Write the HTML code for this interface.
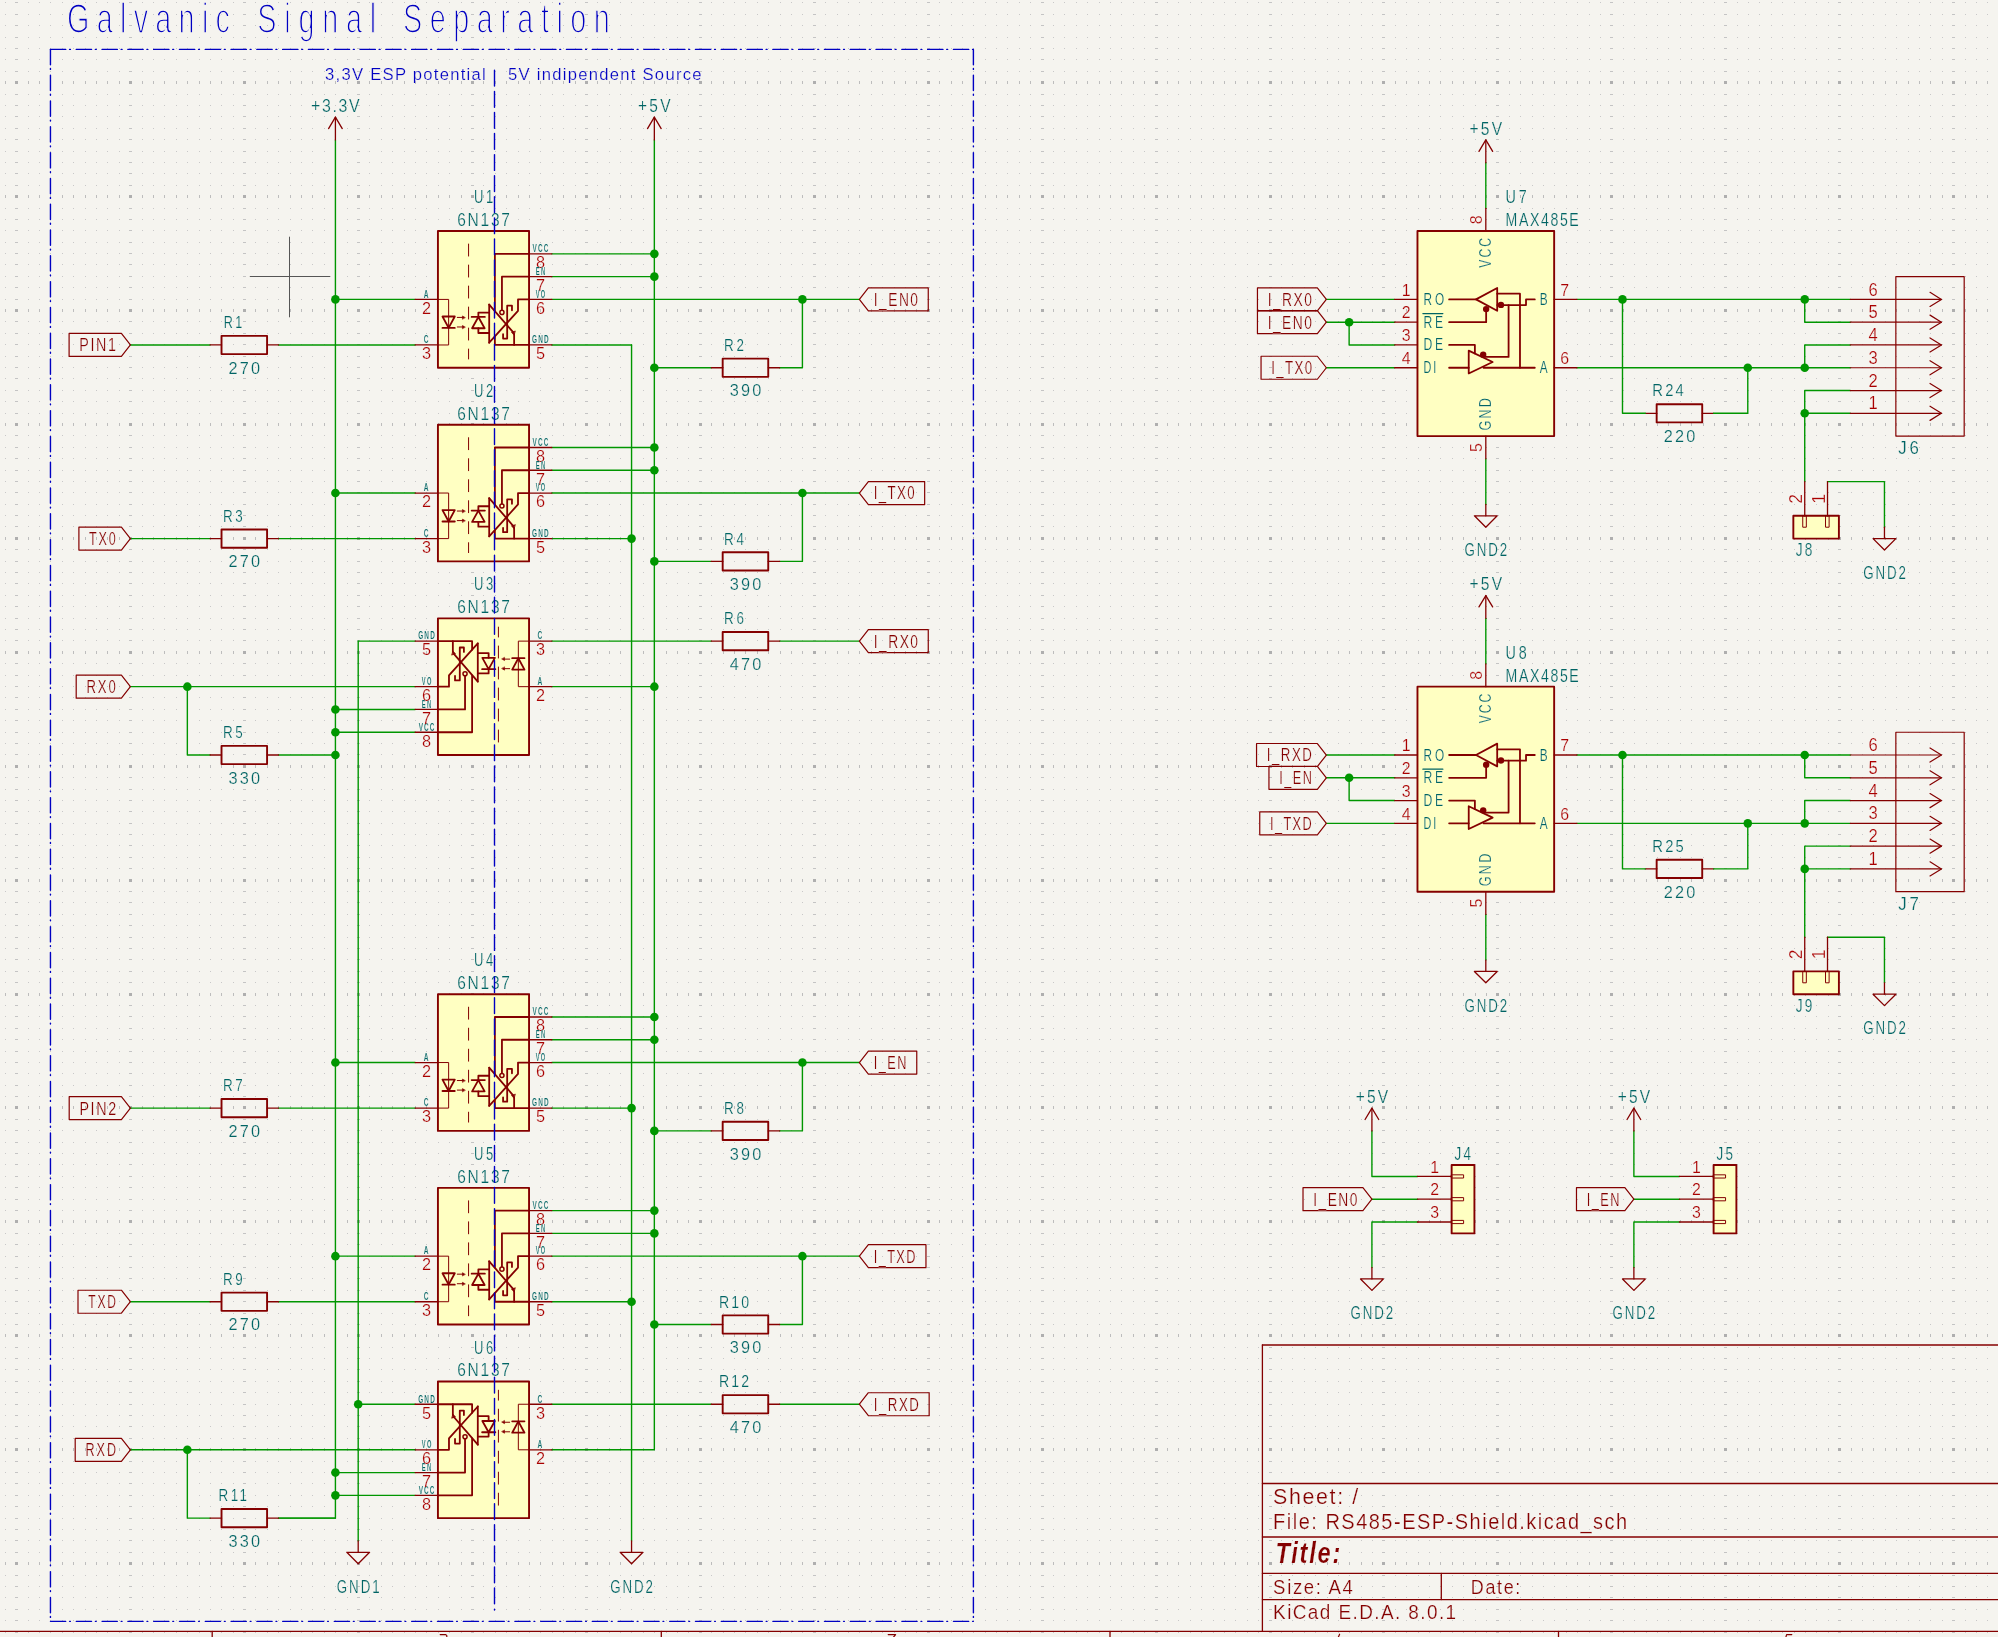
<!DOCTYPE html>
<html><head><meta charset="utf-8"><title>Schematic</title>
<style>
html,body{margin:0;padding:0;background:#F5F4EF;width:1998px;height:1637px;overflow:hidden}
#g{position:absolute;left:0;top:0}
svg{position:absolute;left:0;top:0}
text{font-family:"Liberation Sans",sans-serif}
</style></head><body>
<svg id="gfb" width="1998" height="1637" style="position:absolute;left:0;top:0"><defs><pattern id="gp" patternUnits="userSpaceOnUse" x="16.7" y="82.7" width="113.940" height="113.920"><rect x="-1.50" y="-1.50" width="3" height="3" fill="#afafaf"/><rect x="-1.50" y="10.89" width="3" height="1" fill="#c4c4c4"/><rect x="-1.50" y="22.28" width="3" height="1" fill="#c4c4c4"/><rect x="-1.50" y="33.68" width="3" height="1" fill="#c4c4c4"/><rect x="-1.50" y="45.07" width="3" height="1" fill="#c4c4c4"/><rect x="-1.50" y="56.46" width="3" height="1" fill="#c4c4c4"/><rect x="-1.50" y="67.85" width="3" height="1" fill="#c4c4c4"/><rect x="-1.50" y="79.24" width="3" height="1" fill="#c4c4c4"/><rect x="-1.50" y="90.64" width="3" height="1" fill="#c4c4c4"/><rect x="-1.50" y="102.03" width="3" height="1" fill="#c4c4c4"/><rect x="10.89" y="-1.50" width="1" height="3" fill="#bdbdbd"/><rect x="10.89" y="10.89" width="1" height="1" fill="#c8c8c8"/><rect x="10.89" y="22.28" width="1" height="1" fill="#c8c8c8"/><rect x="10.89" y="33.68" width="1" height="1" fill="#c8c8c8"/><rect x="10.89" y="45.07" width="1" height="1" fill="#c8c8c8"/><rect x="10.89" y="56.46" width="1" height="1" fill="#c8c8c8"/><rect x="10.89" y="67.85" width="1" height="1" fill="#c8c8c8"/><rect x="10.89" y="79.24" width="1" height="1" fill="#c8c8c8"/><rect x="10.89" y="90.64" width="1" height="1" fill="#c8c8c8"/><rect x="10.89" y="102.03" width="1" height="1" fill="#c8c8c8"/><rect x="22.29" y="-1.50" width="1" height="3" fill="#bdbdbd"/><rect x="22.29" y="10.89" width="1" height="1" fill="#c8c8c8"/><rect x="22.29" y="22.28" width="1" height="1" fill="#c8c8c8"/><rect x="22.29" y="33.68" width="1" height="1" fill="#c8c8c8"/><rect x="22.29" y="45.07" width="1" height="1" fill="#c8c8c8"/><rect x="22.29" y="56.46" width="1" height="1" fill="#c8c8c8"/><rect x="22.29" y="67.85" width="1" height="1" fill="#c8c8c8"/><rect x="22.29" y="79.24" width="1" height="1" fill="#c8c8c8"/><rect x="22.29" y="90.64" width="1" height="1" fill="#c8c8c8"/><rect x="22.29" y="102.03" width="1" height="1" fill="#c8c8c8"/><rect x="33.68" y="-1.50" width="1" height="3" fill="#bdbdbd"/><rect x="33.68" y="10.89" width="1" height="1" fill="#c8c8c8"/><rect x="33.68" y="22.28" width="1" height="1" fill="#c8c8c8"/><rect x="33.68" y="33.68" width="1" height="1" fill="#c8c8c8"/><rect x="33.68" y="45.07" width="1" height="1" fill="#c8c8c8"/><rect x="33.68" y="56.46" width="1" height="1" fill="#c8c8c8"/><rect x="33.68" y="67.85" width="1" height="1" fill="#c8c8c8"/><rect x="33.68" y="79.24" width="1" height="1" fill="#c8c8c8"/><rect x="33.68" y="90.64" width="1" height="1" fill="#c8c8c8"/><rect x="33.68" y="102.03" width="1" height="1" fill="#c8c8c8"/><rect x="45.08" y="-1.50" width="1" height="3" fill="#bdbdbd"/><rect x="45.08" y="10.89" width="1" height="1" fill="#c8c8c8"/><rect x="45.08" y="22.28" width="1" height="1" fill="#c8c8c8"/><rect x="45.08" y="33.68" width="1" height="1" fill="#c8c8c8"/><rect x="45.08" y="45.07" width="1" height="1" fill="#c8c8c8"/><rect x="45.08" y="56.46" width="1" height="1" fill="#c8c8c8"/><rect x="45.08" y="67.85" width="1" height="1" fill="#c8c8c8"/><rect x="45.08" y="79.24" width="1" height="1" fill="#c8c8c8"/><rect x="45.08" y="90.64" width="1" height="1" fill="#c8c8c8"/><rect x="45.08" y="102.03" width="1" height="1" fill="#c8c8c8"/><rect x="56.47" y="-1.50" width="1" height="3" fill="#bdbdbd"/><rect x="56.47" y="10.89" width="1" height="1" fill="#c8c8c8"/><rect x="56.47" y="22.28" width="1" height="1" fill="#c8c8c8"/><rect x="56.47" y="33.68" width="1" height="1" fill="#c8c8c8"/><rect x="56.47" y="45.07" width="1" height="1" fill="#c8c8c8"/><rect x="56.47" y="56.46" width="1" height="1" fill="#c8c8c8"/><rect x="56.47" y="67.85" width="1" height="1" fill="#c8c8c8"/><rect x="56.47" y="79.24" width="1" height="1" fill="#c8c8c8"/><rect x="56.47" y="90.64" width="1" height="1" fill="#c8c8c8"/><rect x="56.47" y="102.03" width="1" height="1" fill="#c8c8c8"/><rect x="67.86" y="-1.50" width="1" height="3" fill="#bdbdbd"/><rect x="67.86" y="10.89" width="1" height="1" fill="#c8c8c8"/><rect x="67.86" y="22.28" width="1" height="1" fill="#c8c8c8"/><rect x="67.86" y="33.68" width="1" height="1" fill="#c8c8c8"/><rect x="67.86" y="45.07" width="1" height="1" fill="#c8c8c8"/><rect x="67.86" y="56.46" width="1" height="1" fill="#c8c8c8"/><rect x="67.86" y="67.85" width="1" height="1" fill="#c8c8c8"/><rect x="67.86" y="79.24" width="1" height="1" fill="#c8c8c8"/><rect x="67.86" y="90.64" width="1" height="1" fill="#c8c8c8"/><rect x="67.86" y="102.03" width="1" height="1" fill="#c8c8c8"/><rect x="79.26" y="-1.50" width="1" height="3" fill="#bdbdbd"/><rect x="79.26" y="10.89" width="1" height="1" fill="#c8c8c8"/><rect x="79.26" y="22.28" width="1" height="1" fill="#c8c8c8"/><rect x="79.26" y="33.68" width="1" height="1" fill="#c8c8c8"/><rect x="79.26" y="45.07" width="1" height="1" fill="#c8c8c8"/><rect x="79.26" y="56.46" width="1" height="1" fill="#c8c8c8"/><rect x="79.26" y="67.85" width="1" height="1" fill="#c8c8c8"/><rect x="79.26" y="79.24" width="1" height="1" fill="#c8c8c8"/><rect x="79.26" y="90.64" width="1" height="1" fill="#c8c8c8"/><rect x="79.26" y="102.03" width="1" height="1" fill="#c8c8c8"/><rect x="90.65" y="-1.50" width="1" height="3" fill="#bdbdbd"/><rect x="90.65" y="10.89" width="1" height="1" fill="#c8c8c8"/><rect x="90.65" y="22.28" width="1" height="1" fill="#c8c8c8"/><rect x="90.65" y="33.68" width="1" height="1" fill="#c8c8c8"/><rect x="90.65" y="45.07" width="1" height="1" fill="#c8c8c8"/><rect x="90.65" y="56.46" width="1" height="1" fill="#c8c8c8"/><rect x="90.65" y="67.85" width="1" height="1" fill="#c8c8c8"/><rect x="90.65" y="79.24" width="1" height="1" fill="#c8c8c8"/><rect x="90.65" y="90.64" width="1" height="1" fill="#c8c8c8"/><rect x="90.65" y="102.03" width="1" height="1" fill="#c8c8c8"/><rect x="102.05" y="-1.50" width="1" height="3" fill="#bdbdbd"/><rect x="102.05" y="10.89" width="1" height="1" fill="#c8c8c8"/><rect x="102.05" y="22.28" width="1" height="1" fill="#c8c8c8"/><rect x="102.05" y="33.68" width="1" height="1" fill="#c8c8c8"/><rect x="102.05" y="45.07" width="1" height="1" fill="#c8c8c8"/><rect x="102.05" y="56.46" width="1" height="1" fill="#c8c8c8"/><rect x="102.05" y="67.85" width="1" height="1" fill="#c8c8c8"/><rect x="102.05" y="79.24" width="1" height="1" fill="#c8c8c8"/><rect x="102.05" y="90.64" width="1" height="1" fill="#c8c8c8"/><rect x="102.05" y="102.03" width="1" height="1" fill="#c8c8c8"/></pattern></defs><rect width="1998" height="1637" fill="url(#gp)"/></svg>
<canvas id="g" width="1998" height="1637"></canvas>
<svg width="1998" height="1637" viewBox="0 0 1998 1637" stroke-linecap="round" stroke-linejoin="round">
<path d="M335.42 139.95 L335.42 1518.14 L278.47 1518.14" stroke="#009600" stroke-width="1.4" fill="none"/>
<path d="M654.34 139.95 L654.34 1449.8 L551.83 1449.8" stroke="#009600" stroke-width="1.4" fill="none"/>
<path d="M358.2 641.11 L358.2 1540.92" stroke="#009600" stroke-width="1.4" fill="none"/>
<path d="M415.15 641.11 L358.2 641.11" stroke="#009600" stroke-width="1.4" fill="none"/>
<path d="M631.56 344.97 L631.56 1540.92" stroke="#009600" stroke-width="1.4" fill="none"/>
<path d="M551.83 344.97 L631.56 344.97" stroke="#009600" stroke-width="1.4" fill="none"/>
<path d="M335.42 299.41 L415.15 299.41" stroke="#009600" stroke-width="1.4" fill="none"/>
<path d="M551.83 253.85 L654.34 253.85" stroke="#009600" stroke-width="1.4" fill="none"/>
<path d="M551.83 276.63 L654.34 276.63" stroke="#009600" stroke-width="1.4" fill="none"/>
<path d="M551.83 299.41 L859.36 299.41" stroke="#009600" stroke-width="1.4" fill="none"/>
<path d="M654.34 367.75 L711.29 367.75" stroke="#009600" stroke-width="1.4" fill="none"/>
<path d="M779.63 367.75 L802.41 367.75 L802.41 299.41" stroke="#009600" stroke-width="1.4" fill="none"/>
<path d="M130.4 344.97 L210.13 344.97" stroke="#009600" stroke-width="1.4" fill="none"/>
<path d="M278.47 344.97 L415.15 344.97" stroke="#009600" stroke-width="1.4" fill="none"/>
<circle cx="335.42" cy="299.41" r="4.3" fill="#009600"/>
<circle cx="654.34" cy="253.85" r="4.3" fill="#009600"/>
<circle cx="654.34" cy="276.63" r="4.3" fill="#009600"/>
<circle cx="802.41" cy="299.41" r="4.3" fill="#009600"/>
<circle cx="654.34" cy="367.75" r="4.3" fill="#009600"/>
<path d="M335.42 493.04 L415.15 493.04" stroke="#009600" stroke-width="1.4" fill="none"/>
<path d="M551.83 447.48 L654.34 447.48" stroke="#009600" stroke-width="1.4" fill="none"/>
<path d="M551.83 470.26 L654.34 470.26" stroke="#009600" stroke-width="1.4" fill="none"/>
<path d="M551.83 493.04 L859.36 493.04" stroke="#009600" stroke-width="1.4" fill="none"/>
<path d="M654.34 561.38 L711.29 561.38" stroke="#009600" stroke-width="1.4" fill="none"/>
<path d="M779.63 561.38 L802.41 561.38 L802.41 493.04" stroke="#009600" stroke-width="1.4" fill="none"/>
<path d="M130.4 538.6 L210.13 538.6" stroke="#009600" stroke-width="1.4" fill="none"/>
<path d="M278.47 538.6 L415.15 538.6" stroke="#009600" stroke-width="1.4" fill="none"/>
<circle cx="335.42" cy="493.04" r="4.3" fill="#009600"/>
<circle cx="654.34" cy="447.48" r="4.3" fill="#009600"/>
<circle cx="654.34" cy="470.26" r="4.3" fill="#009600"/>
<circle cx="802.41" cy="493.04" r="4.3" fill="#009600"/>
<circle cx="654.34" cy="561.38" r="4.3" fill="#009600"/>
<path d="M335.42 1062.54 L415.15 1062.54" stroke="#009600" stroke-width="1.4" fill="none"/>
<path d="M551.83 1016.98 L654.34 1016.98" stroke="#009600" stroke-width="1.4" fill="none"/>
<path d="M551.83 1039.76 L654.34 1039.76" stroke="#009600" stroke-width="1.4" fill="none"/>
<path d="M551.83 1062.54 L859.36 1062.54" stroke="#009600" stroke-width="1.4" fill="none"/>
<path d="M654.34 1130.88 L711.29 1130.88" stroke="#009600" stroke-width="1.4" fill="none"/>
<path d="M779.63 1130.88 L802.41 1130.88 L802.41 1062.54" stroke="#009600" stroke-width="1.4" fill="none"/>
<path d="M130.4 1108.1 L210.13 1108.1" stroke="#009600" stroke-width="1.4" fill="none"/>
<path d="M278.47 1108.1 L415.15 1108.1" stroke="#009600" stroke-width="1.4" fill="none"/>
<circle cx="335.42" cy="1062.54" r="4.3" fill="#009600"/>
<circle cx="654.34" cy="1016.98" r="4.3" fill="#009600"/>
<circle cx="654.34" cy="1039.76" r="4.3" fill="#009600"/>
<circle cx="802.41" cy="1062.54" r="4.3" fill="#009600"/>
<circle cx="654.34" cy="1130.88" r="4.3" fill="#009600"/>
<path d="M335.42 1256.17 L415.15 1256.17" stroke="#009600" stroke-width="1.4" fill="none"/>
<path d="M551.83 1210.61 L654.34 1210.61" stroke="#009600" stroke-width="1.4" fill="none"/>
<path d="M551.83 1233.39 L654.34 1233.39" stroke="#009600" stroke-width="1.4" fill="none"/>
<path d="M551.83 1256.17 L859.36 1256.17" stroke="#009600" stroke-width="1.4" fill="none"/>
<path d="M654.34 1324.51 L711.29 1324.51" stroke="#009600" stroke-width="1.4" fill="none"/>
<path d="M779.63 1324.51 L802.41 1324.51 L802.41 1256.17" stroke="#009600" stroke-width="1.4" fill="none"/>
<path d="M130.4 1301.73 L210.13 1301.73" stroke="#009600" stroke-width="1.4" fill="none"/>
<path d="M278.47 1301.73 L415.15 1301.73" stroke="#009600" stroke-width="1.4" fill="none"/>
<circle cx="335.42" cy="1256.17" r="4.3" fill="#009600"/>
<circle cx="654.34" cy="1210.61" r="4.3" fill="#009600"/>
<circle cx="654.34" cy="1233.39" r="4.3" fill="#009600"/>
<circle cx="802.41" cy="1256.17" r="4.3" fill="#009600"/>
<circle cx="654.34" cy="1324.51" r="4.3" fill="#009600"/>
<path d="M551.83 538.6 L631.56 538.6" stroke="#009600" stroke-width="1.4" fill="none"/>
<circle cx="631.56" cy="538.6" r="4.3" fill="#009600"/>
<path d="M551.83 1108.1 L631.56 1108.1" stroke="#009600" stroke-width="1.4" fill="none"/>
<circle cx="631.56" cy="1108.1" r="4.3" fill="#009600"/>
<path d="M551.83 1301.73 L631.56 1301.73" stroke="#009600" stroke-width="1.4" fill="none"/>
<circle cx="631.56" cy="1301.73" r="4.3" fill="#009600"/>
<path d="M130.4 686.67 L415.15 686.67" stroke="#009600" stroke-width="1.4" fill="none"/>
<path d="M187.35 686.67 L187.35 755.01 L210.13 755.01" stroke="#009600" stroke-width="1.4" fill="none"/>
<path d="M278.47 755.01 L335.42 755.01" stroke="#009600" stroke-width="1.4" fill="none"/>
<path d="M415.15 709.45 L335.42 709.45" stroke="#009600" stroke-width="1.4" fill="none"/>
<path d="M415.15 732.23 L335.42 732.23" stroke="#009600" stroke-width="1.4" fill="none"/>
<path d="M551.83 641.11 L711.29 641.11" stroke="#009600" stroke-width="1.4" fill="none"/>
<path d="M779.63 641.11 L859.36 641.11" stroke="#009600" stroke-width="1.4" fill="none"/>
<circle cx="187.35" cy="686.67" r="4.3" fill="#009600"/>
<circle cx="335.42" cy="709.45" r="4.3" fill="#009600"/>
<circle cx="335.42" cy="732.23" r="4.3" fill="#009600"/>
<path d="M130.4 1449.8 L415.15 1449.8" stroke="#009600" stroke-width="1.4" fill="none"/>
<path d="M187.35 1449.8 L187.35 1518.14 L210.13 1518.14" stroke="#009600" stroke-width="1.4" fill="none"/>
<path d="M278.47 1518.14 L335.42 1518.14" stroke="#009600" stroke-width="1.4" fill="none"/>
<path d="M415.15 1472.58 L335.42 1472.58" stroke="#009600" stroke-width="1.4" fill="none"/>
<path d="M415.15 1495.36 L335.42 1495.36" stroke="#009600" stroke-width="1.4" fill="none"/>
<path d="M551.83 1404.24 L711.29 1404.24" stroke="#009600" stroke-width="1.4" fill="none"/>
<path d="M779.63 1404.24 L859.36 1404.24" stroke="#009600" stroke-width="1.4" fill="none"/>
<circle cx="187.35" cy="1449.8" r="4.3" fill="#009600"/>
<circle cx="335.42" cy="1472.58" r="4.3" fill="#009600"/>
<circle cx="335.42" cy="1495.36" r="4.3" fill="#009600"/>
<circle cx="335.42" cy="755.01" r="4.3" fill="#009600"/>
<path d="M551.83 686.67 L654.34 686.67" stroke="#009600" stroke-width="1.4" fill="none"/>
<circle cx="654.34" cy="686.67" r="4.3" fill="#009600"/>
<path d="M415.15 1404.24 L358.2 1404.24" stroke="#009600" stroke-width="1.4" fill="none"/>
<circle cx="358.2" cy="1404.24" r="4.3" fill="#009600"/>
<rect x="437.93" y="231.07" width="91.12" height="136.68" stroke="#840000" stroke-width="1.9" fill="#FFFFC2"/>
<path d="M529.05 253.85 L494.88 253.85 L494.88 310.8" stroke="#840000" stroke-width="1.8" fill="none" stroke-linejoin="round"/>
<path d="M529.05 276.63 L501.94 276.63 L501.94 310.23" stroke="#840000" stroke-width="1.8" fill="none" stroke-linejoin="round"/>
<path d="M489.19 304.54 L489.19 342.69" stroke="#840000" stroke-width="1.8" fill="none" stroke-linejoin="round"/>
<path d="M489.19 304.54 L513.33 332.44 L514.13 334.15 L514.13 344.97" stroke="#840000" stroke-width="1.8" fill="none" stroke-linejoin="round"/>
<path d="M489.19 342.69 L518 310.8 L518 299.41 L529.05 299.41" stroke="#840000" stroke-width="1.8" fill="none" stroke-linejoin="round"/>
<path d="M529.05 344.97 L494.88 344.97 L494.88 336.43" stroke="#840000" stroke-width="1.8" fill="none" stroke-linejoin="round"/>
<path d="M511.97 310.23 L511.97 305.67 L507.18 305.67 L507.18 338.59 L503.08 338.59 L503.08 334.15" stroke="#840000" stroke-width="1.8" fill="none" stroke-linejoin="round"/>
<path d="M471.64 316.95 L484.86 316.95" stroke="#840000" stroke-width="1.8" fill="none" stroke-linejoin="round"/>
<path d="M478.36 316.95 L478.36 312.62 L489.19 312.62" stroke="#840000" stroke-width="1.8" fill="none" stroke-linejoin="round"/>
<path d="M478.36 328.23 L478.36 333.01 L489.19 333.01" stroke="#840000" stroke-width="1.8" fill="none" stroke-linejoin="round"/>
<path d="M442.49 327.88 L454.79 327.88" stroke="#840000" stroke-width="1.8" fill="none" stroke-linejoin="round"/>
<path d="M472.1 328.23 L484.63 328.23 L478.36 316.95 Z" stroke="#840000" stroke-width="1.8" fill="none"/>
<path d="M442.49 316.5 L454.79 316.5 L448.64 327.88 Z" stroke="#840000" stroke-width="1.8" fill="none"/>
<path d="M437.93 299.41 L448.64 299.41 L448.64 344.97 L437.93 344.97" stroke="#840000" stroke-width="1" fill="none"/>
<path d="M457.29 317.41 L463.56 317.41" stroke="#840000" stroke-width="1" fill="none"/>
<path d="M457.29 326.97 L463.56 326.97" stroke="#840000" stroke-width="1" fill="none"/>
<path d="M465.04 317.41 L462.42 315.93 L462.42 318.89 Z" stroke="#840000" stroke-width="0.6" fill="#840000"/>
<path d="M465.04 326.97 L462.42 325.49 L462.42 328.45 Z" stroke="#840000" stroke-width="0.6" fill="#840000"/>
<path d="M513.79 334.95 L511.4 332.21 L515.15 331.07 Z" stroke="#840000" stroke-width="0.6" fill="#840000"/>
<circle cx="501.94" cy="312.39" r="2.05" stroke="#840000" stroke-width="1.5" fill="#FFFFC2"/>
<path d="M468.57 244.05 L468.57 358.98" stroke="#840000" stroke-width="1" stroke-dasharray="12 9" fill="none"/>
<path d="M437.93 299.41 L415.15 299.41" stroke="#840000" stroke-width="1.3" fill="none"/>
<text font-size="17.18" fill="#A90000" transform="translate(426.54 313.72) scale(0.95 1)" text-anchor="middle" stroke="#F5F4EF" stroke-width="0.22">2</text>
<text font-size="10.2" fill="#006464" transform="translate(423.72 297.72) scale(0.65 1)" textLength="8.69" lengthAdjust="spacing" font-weight="bold" stroke="#F5F4EF" stroke-width="0.22">A</text>
<path d="M437.93 344.97 L415.15 344.97" stroke="#840000" stroke-width="1.3" fill="none"/>
<text font-size="17.18" fill="#A90000" transform="translate(426.54 359.28) scale(0.95 1)" text-anchor="middle" stroke="#F5F4EF" stroke-width="0.22">3</text>
<text font-size="10.2" fill="#006464" transform="translate(423.72 343.28) scale(0.65 1)" textLength="8.69" lengthAdjust="spacing" font-weight="bold" stroke="#F5F4EF" stroke-width="0.22">C</text>
<path d="M529.05 253.85 L551.83 253.85" stroke="#840000" stroke-width="1.3" fill="none"/>
<text font-size="17.18" fill="#A90000" transform="translate(540.44 268.16) scale(0.95 1)" text-anchor="middle" stroke="#F5F4EF" stroke-width="0.22">8</text>
<text font-size="10.2" fill="#006464" transform="translate(532.62 252.16) scale(0.63 1)" textLength="24.98" lengthAdjust="spacing" font-weight="bold" stroke="#F5F4EF" stroke-width="0.22">VCC</text>
<path d="M529.05 276.63 L551.83 276.63" stroke="#840000" stroke-width="1.3" fill="none"/>
<text font-size="17.18" fill="#A90000" transform="translate(540.44 290.94) scale(0.95 1)" text-anchor="middle" stroke="#F5F4EF" stroke-width="0.22">7</text>
<text font-size="10.2" fill="#006464" transform="translate(535.63 274.94) scale(0.58 1)" textLength="16.51" lengthAdjust="spacing" font-weight="bold" stroke="#F5F4EF" stroke-width="0.22">EN</text>
<path d="M529.05 299.41 L551.83 299.41" stroke="#840000" stroke-width="1.3" fill="none"/>
<text font-size="17.18" fill="#A90000" transform="translate(540.44 313.72) scale(0.95 1)" text-anchor="middle" stroke="#F5F4EF" stroke-width="0.22">6</text>
<text font-size="10.2" fill="#006464" transform="translate(535.63 297.72) scale(0.56 1)" textLength="17.17" lengthAdjust="spacing" font-weight="bold" stroke="#F5F4EF" stroke-width="0.22">VO</text>
<path d="M529.05 344.97 L551.83 344.97" stroke="#840000" stroke-width="1.3" fill="none"/>
<text font-size="17.18" fill="#A90000" transform="translate(540.44 359.28) scale(0.95 1)" text-anchor="middle" stroke="#F5F4EF" stroke-width="0.22">5</text>
<text font-size="10.2" fill="#006464" transform="translate(532.12 343.28) scale(0.63 1)" textLength="26.28" lengthAdjust="spacing" font-weight="bold" stroke="#F5F4EF" stroke-width="0.22">GND</text>
<text font-size="18.05" fill="#006464" transform="translate(473.91 203.11) scale(0.72 1)" textLength="26.74" lengthAdjust="spacing" stroke="#F5F4EF" stroke-width="0.22">U1</text>
<text font-size="18.05" fill="#006464" transform="translate(457.15 225.89) scale(0.86 1)" textLength="61.37" lengthAdjust="spacing" stroke="#F5F4EF" stroke-width="0.22">6N137</text>
<rect x="437.93" y="424.7" width="91.12" height="136.68" stroke="#840000" stroke-width="1.9" fill="#FFFFC2"/>
<path d="M529.05 447.48 L494.88 447.48 L494.88 504.43" stroke="#840000" stroke-width="1.8" fill="none" stroke-linejoin="round"/>
<path d="M529.05 470.26 L501.94 470.26 L501.94 503.86" stroke="#840000" stroke-width="1.8" fill="none" stroke-linejoin="round"/>
<path d="M489.19 498.17 L489.19 536.32" stroke="#840000" stroke-width="1.8" fill="none" stroke-linejoin="round"/>
<path d="M489.19 498.17 L513.33 526.07 L514.13 527.78 L514.13 538.6" stroke="#840000" stroke-width="1.8" fill="none" stroke-linejoin="round"/>
<path d="M489.19 536.32 L518 504.43 L518 493.04 L529.05 493.04" stroke="#840000" stroke-width="1.8" fill="none" stroke-linejoin="round"/>
<path d="M529.05 538.6 L494.88 538.6 L494.88 530.06" stroke="#840000" stroke-width="1.8" fill="none" stroke-linejoin="round"/>
<path d="M511.97 503.86 L511.97 499.3 L507.18 499.3 L507.18 532.22 L503.08 532.22 L503.08 527.78" stroke="#840000" stroke-width="1.8" fill="none" stroke-linejoin="round"/>
<path d="M471.64 510.58 L484.86 510.58" stroke="#840000" stroke-width="1.8" fill="none" stroke-linejoin="round"/>
<path d="M478.36 510.58 L478.36 506.25 L489.19 506.25" stroke="#840000" stroke-width="1.8" fill="none" stroke-linejoin="round"/>
<path d="M478.36 521.86 L478.36 526.64 L489.19 526.64" stroke="#840000" stroke-width="1.8" fill="none" stroke-linejoin="round"/>
<path d="M442.49 521.52 L454.79 521.52" stroke="#840000" stroke-width="1.8" fill="none" stroke-linejoin="round"/>
<path d="M472.1 521.86 L484.63 521.86 L478.36 510.58 Z" stroke="#840000" stroke-width="1.8" fill="none"/>
<path d="M442.49 510.12 L454.79 510.12 L448.64 521.52 Z" stroke="#840000" stroke-width="1.8" fill="none"/>
<path d="M437.93 493.04 L448.64 493.04 L448.64 538.6 L437.93 538.6" stroke="#840000" stroke-width="1" fill="none"/>
<path d="M457.29 511.04 L463.56 511.04" stroke="#840000" stroke-width="1" fill="none"/>
<path d="M457.29 520.6 L463.56 520.6" stroke="#840000" stroke-width="1" fill="none"/>
<path d="M465.04 511.04 L462.42 509.56 L462.42 512.52 Z" stroke="#840000" stroke-width="0.6" fill="#840000"/>
<path d="M465.04 520.6 L462.42 519.12 L462.42 522.08 Z" stroke="#840000" stroke-width="0.6" fill="#840000"/>
<path d="M513.79 528.58 L511.4 525.84 L515.15 524.7 Z" stroke="#840000" stroke-width="0.6" fill="#840000"/>
<circle cx="501.94" cy="506.02" r="2.05" stroke="#840000" stroke-width="1.5" fill="#FFFFC2"/>
<path d="M468.57 437.68 L468.57 552.61" stroke="#840000" stroke-width="1" stroke-dasharray="12 9" fill="none"/>
<path d="M437.93 493.04 L415.15 493.04" stroke="#840000" stroke-width="1.3" fill="none"/>
<text font-size="17.18" fill="#A90000" transform="translate(426.54 507.35) scale(0.95 1)" text-anchor="middle" stroke="#F5F4EF" stroke-width="0.22">2</text>
<text font-size="10.2" fill="#006464" transform="translate(423.72 491.35) scale(0.65 1)" textLength="8.69" lengthAdjust="spacing" font-weight="bold" stroke="#F5F4EF" stroke-width="0.22">A</text>
<path d="M437.93 538.6 L415.15 538.6" stroke="#840000" stroke-width="1.3" fill="none"/>
<text font-size="17.18" fill="#A90000" transform="translate(426.54 552.91) scale(0.95 1)" text-anchor="middle" stroke="#F5F4EF" stroke-width="0.22">3</text>
<text font-size="10.2" fill="#006464" transform="translate(423.72 536.91) scale(0.65 1)" textLength="8.69" lengthAdjust="spacing" font-weight="bold" stroke="#F5F4EF" stroke-width="0.22">C</text>
<path d="M529.05 447.48 L551.83 447.48" stroke="#840000" stroke-width="1.3" fill="none"/>
<text font-size="17.18" fill="#A90000" transform="translate(540.44 461.79) scale(0.95 1)" text-anchor="middle" stroke="#F5F4EF" stroke-width="0.22">8</text>
<text font-size="10.2" fill="#006464" transform="translate(532.62 445.79) scale(0.63 1)" textLength="24.98" lengthAdjust="spacing" font-weight="bold" stroke="#F5F4EF" stroke-width="0.22">VCC</text>
<path d="M529.05 470.26 L551.83 470.26" stroke="#840000" stroke-width="1.3" fill="none"/>
<text font-size="17.18" fill="#A90000" transform="translate(540.44 484.57) scale(0.95 1)" text-anchor="middle" stroke="#F5F4EF" stroke-width="0.22">7</text>
<text font-size="10.2" fill="#006464" transform="translate(535.63 468.57) scale(0.58 1)" textLength="16.51" lengthAdjust="spacing" font-weight="bold" stroke="#F5F4EF" stroke-width="0.22">EN</text>
<path d="M529.05 493.04 L551.83 493.04" stroke="#840000" stroke-width="1.3" fill="none"/>
<text font-size="17.18" fill="#A90000" transform="translate(540.44 507.35) scale(0.95 1)" text-anchor="middle" stroke="#F5F4EF" stroke-width="0.22">6</text>
<text font-size="10.2" fill="#006464" transform="translate(535.63 491.35) scale(0.56 1)" textLength="17.17" lengthAdjust="spacing" font-weight="bold" stroke="#F5F4EF" stroke-width="0.22">VO</text>
<path d="M529.05 538.6 L551.83 538.6" stroke="#840000" stroke-width="1.3" fill="none"/>
<text font-size="17.18" fill="#A90000" transform="translate(540.44 552.91) scale(0.95 1)" text-anchor="middle" stroke="#F5F4EF" stroke-width="0.22">5</text>
<text font-size="10.2" fill="#006464" transform="translate(532.12 536.91) scale(0.63 1)" textLength="26.28" lengthAdjust="spacing" font-weight="bold" stroke="#F5F4EF" stroke-width="0.22">GND</text>
<text font-size="18.05" fill="#006464" transform="translate(473.91 396.74) scale(0.72 1)" textLength="26.74" lengthAdjust="spacing" stroke="#F5F4EF" stroke-width="0.22">U2</text>
<text font-size="18.05" fill="#006464" transform="translate(457.15 419.52) scale(0.86 1)" textLength="61.37" lengthAdjust="spacing" stroke="#F5F4EF" stroke-width="0.22">6N137</text>
<rect x="437.93" y="618.33" width="91.12" height="136.68" stroke="#840000" stroke-width="1.9" fill="#FFFFC2"/>
<path d="M437.93 732.23 L472.1 732.23 L472.1 675.28" stroke="#840000" stroke-width="1.8" fill="none" stroke-linejoin="round"/>
<path d="M437.93 709.45 L465.04 709.45 L465.04 675.85" stroke="#840000" stroke-width="1.8" fill="none" stroke-linejoin="round"/>
<path d="M477.8 681.54 L477.8 643.39" stroke="#840000" stroke-width="1.8" fill="none" stroke-linejoin="round"/>
<path d="M477.8 681.54 L453.65 653.64 L452.85 651.93 L452.85 641.11" stroke="#840000" stroke-width="1.8" fill="none" stroke-linejoin="round"/>
<path d="M477.8 643.39 L448.98 675.28 L448.98 686.67 L437.93 686.67" stroke="#840000" stroke-width="1.8" fill="none" stroke-linejoin="round"/>
<path d="M437.93 641.11 L472.1 641.11 L472.1 649.65" stroke="#840000" stroke-width="1.8" fill="none" stroke-linejoin="round"/>
<path d="M455.02 675.85 L455.02 680.41 L459.8 680.41 L459.8 647.49 L463.9 647.49 L463.9 651.93" stroke="#840000" stroke-width="1.8" fill="none" stroke-linejoin="round"/>
<path d="M495.34 669.13 L482.12 669.13" stroke="#840000" stroke-width="1.8" fill="none" stroke-linejoin="round"/>
<path d="M488.62 669.13 L488.62 673.46 L477.8 673.46" stroke="#840000" stroke-width="1.8" fill="none" stroke-linejoin="round"/>
<path d="M488.62 657.85 L488.62 653.07 L477.8 653.07" stroke="#840000" stroke-width="1.8" fill="none" stroke-linejoin="round"/>
<path d="M524.49 658.2 L512.19 658.2" stroke="#840000" stroke-width="1.8" fill="none" stroke-linejoin="round"/>
<path d="M494.88 657.85 L482.35 657.85 L488.62 669.13 Z" stroke="#840000" stroke-width="1.8" fill="none"/>
<path d="M524.49 669.59 L512.19 669.59 L518.34 658.2 Z" stroke="#840000" stroke-width="1.8" fill="none"/>
<path d="M529.05 686.67 L518.34 686.67 L518.34 641.11 L529.05 641.11" stroke="#840000" stroke-width="1" fill="none"/>
<path d="M509.69 668.67 L503.42 668.67" stroke="#840000" stroke-width="1" fill="none"/>
<path d="M509.69 659.11 L503.42 659.11" stroke="#840000" stroke-width="1" fill="none"/>
<path d="M501.94 668.67 L504.56 670.15 L504.56 667.19 Z" stroke="#840000" stroke-width="0.6" fill="#840000"/>
<path d="M501.94 659.11 L504.56 660.59 L504.56 657.63 Z" stroke="#840000" stroke-width="0.6" fill="#840000"/>
<path d="M453.19 651.13 L455.58 653.87 L451.83 655.01 Z" stroke="#840000" stroke-width="0.6" fill="#840000"/>
<circle cx="465.04" cy="673.69" r="2.05" stroke="#840000" stroke-width="1.5" fill="#FFFFC2"/>
<path d="M498.41 742.03 L498.41 627.1" stroke="#840000" stroke-width="1" stroke-dasharray="12 9" fill="none"/>
<path d="M529.05 686.67 L551.83 686.67" stroke="#840000" stroke-width="1.3" fill="none"/>
<text font-size="17.18" fill="#A90000" transform="translate(540.44 700.98) scale(0.95 1)" text-anchor="middle" stroke="#F5F4EF" stroke-width="0.22">2</text>
<text font-size="10.2" fill="#006464" transform="translate(537.62 684.98) scale(0.65 1)" textLength="8.69" lengthAdjust="spacing" font-weight="bold" stroke="#F5F4EF" stroke-width="0.22">A</text>
<path d="M529.05 641.11 L551.83 641.11" stroke="#840000" stroke-width="1.3" fill="none"/>
<text font-size="17.18" fill="#A90000" transform="translate(540.44 655.42) scale(0.95 1)" text-anchor="middle" stroke="#F5F4EF" stroke-width="0.22">3</text>
<text font-size="10.2" fill="#006464" transform="translate(537.62 639.42) scale(0.65 1)" textLength="8.69" lengthAdjust="spacing" font-weight="bold" stroke="#F5F4EF" stroke-width="0.22">C</text>
<path d="M437.93 732.23 L415.15 732.23" stroke="#840000" stroke-width="1.3" fill="none"/>
<text font-size="17.18" fill="#A90000" transform="translate(426.54 746.54) scale(0.95 1)" text-anchor="middle" stroke="#F5F4EF" stroke-width="0.22">8</text>
<text font-size="10.2" fill="#006464" transform="translate(418.72 730.54) scale(0.63 1)" textLength="24.98" lengthAdjust="spacing" font-weight="bold" stroke="#F5F4EF" stroke-width="0.22">VCC</text>
<path d="M437.93 709.45 L415.15 709.45" stroke="#840000" stroke-width="1.3" fill="none"/>
<text font-size="17.18" fill="#A90000" transform="translate(426.54 723.76) scale(0.95 1)" text-anchor="middle" stroke="#F5F4EF" stroke-width="0.22">7</text>
<text font-size="10.2" fill="#006464" transform="translate(421.73 707.76) scale(0.58 1)" textLength="16.51" lengthAdjust="spacing" font-weight="bold" stroke="#F5F4EF" stroke-width="0.22">EN</text>
<path d="M437.93 686.67 L415.15 686.67" stroke="#840000" stroke-width="1.3" fill="none"/>
<text font-size="17.18" fill="#A90000" transform="translate(426.54 700.98) scale(0.95 1)" text-anchor="middle" stroke="#F5F4EF" stroke-width="0.22">6</text>
<text font-size="10.2" fill="#006464" transform="translate(421.73 684.98) scale(0.56 1)" textLength="17.17" lengthAdjust="spacing" font-weight="bold" stroke="#F5F4EF" stroke-width="0.22">VO</text>
<path d="M437.93 641.11 L415.15 641.11" stroke="#840000" stroke-width="1.3" fill="none"/>
<text font-size="17.18" fill="#A90000" transform="translate(426.54 655.42) scale(0.95 1)" text-anchor="middle" stroke="#F5F4EF" stroke-width="0.22">5</text>
<text font-size="10.2" fill="#006464" transform="translate(418.22 639.42) scale(0.63 1)" textLength="26.28" lengthAdjust="spacing" font-weight="bold" stroke="#F5F4EF" stroke-width="0.22">GND</text>
<text font-size="18.05" fill="#006464" transform="translate(473.91 590.37) scale(0.72 1)" textLength="26.74" lengthAdjust="spacing" stroke="#F5F4EF" stroke-width="0.22">U3</text>
<text font-size="18.05" fill="#006464" transform="translate(457.15 613.15) scale(0.86 1)" textLength="61.37" lengthAdjust="spacing" stroke="#F5F4EF" stroke-width="0.22">6N137</text>
<rect x="437.93" y="994.2" width="91.12" height="136.68" stroke="#840000" stroke-width="1.9" fill="#FFFFC2"/>
<path d="M529.05 1016.98 L494.88 1016.98 L494.88 1073.93" stroke="#840000" stroke-width="1.8" fill="none" stroke-linejoin="round"/>
<path d="M529.05 1039.76 L501.94 1039.76 L501.94 1073.36" stroke="#840000" stroke-width="1.8" fill="none" stroke-linejoin="round"/>
<path d="M489.19 1067.67 L489.19 1105.82" stroke="#840000" stroke-width="1.8" fill="none" stroke-linejoin="round"/>
<path d="M489.19 1067.67 L513.33 1095.57 L514.13 1097.28 L514.13 1108.1" stroke="#840000" stroke-width="1.8" fill="none" stroke-linejoin="round"/>
<path d="M489.19 1105.82 L518 1073.93 L518 1062.54 L529.05 1062.54" stroke="#840000" stroke-width="1.8" fill="none" stroke-linejoin="round"/>
<path d="M529.05 1108.1 L494.88 1108.1 L494.88 1099.56" stroke="#840000" stroke-width="1.8" fill="none" stroke-linejoin="round"/>
<path d="M511.97 1073.36 L511.97 1068.8 L507.18 1068.8 L507.18 1101.72 L503.08 1101.72 L503.08 1097.28" stroke="#840000" stroke-width="1.8" fill="none" stroke-linejoin="round"/>
<path d="M471.64 1080.08 L484.86 1080.08" stroke="#840000" stroke-width="1.8" fill="none" stroke-linejoin="round"/>
<path d="M478.36 1080.08 L478.36 1075.75 L489.19 1075.75" stroke="#840000" stroke-width="1.8" fill="none" stroke-linejoin="round"/>
<path d="M478.36 1091.36 L478.36 1096.14 L489.19 1096.14" stroke="#840000" stroke-width="1.8" fill="none" stroke-linejoin="round"/>
<path d="M442.49 1091.02 L454.79 1091.02" stroke="#840000" stroke-width="1.8" fill="none" stroke-linejoin="round"/>
<path d="M472.1 1091.36 L484.63 1091.36 L478.36 1080.08 Z" stroke="#840000" stroke-width="1.8" fill="none"/>
<path d="M442.49 1079.62 L454.79 1079.62 L448.64 1091.02 Z" stroke="#840000" stroke-width="1.8" fill="none"/>
<path d="M437.93 1062.54 L448.64 1062.54 L448.64 1108.1 L437.93 1108.1" stroke="#840000" stroke-width="1" fill="none"/>
<path d="M457.29 1080.54 L463.56 1080.54" stroke="#840000" stroke-width="1" fill="none"/>
<path d="M457.29 1090.1 L463.56 1090.1" stroke="#840000" stroke-width="1" fill="none"/>
<path d="M465.04 1080.54 L462.42 1079.06 L462.42 1082.02 Z" stroke="#840000" stroke-width="0.6" fill="#840000"/>
<path d="M465.04 1090.1 L462.42 1088.62 L462.42 1091.58 Z" stroke="#840000" stroke-width="0.6" fill="#840000"/>
<path d="M513.79 1098.08 L511.4 1095.34 L515.15 1094.2 Z" stroke="#840000" stroke-width="0.6" fill="#840000"/>
<circle cx="501.94" cy="1075.52" r="2.05" stroke="#840000" stroke-width="1.5" fill="#FFFFC2"/>
<path d="M468.57 1007.18 L468.57 1122.11" stroke="#840000" stroke-width="1" stroke-dasharray="12 9" fill="none"/>
<path d="M437.93 1062.54 L415.15 1062.54" stroke="#840000" stroke-width="1.3" fill="none"/>
<text font-size="17.18" fill="#A90000" transform="translate(426.54 1076.85) scale(0.95 1)" text-anchor="middle" stroke="#F5F4EF" stroke-width="0.22">2</text>
<text font-size="10.2" fill="#006464" transform="translate(423.72 1060.85) scale(0.65 1)" textLength="8.69" lengthAdjust="spacing" font-weight="bold" stroke="#F5F4EF" stroke-width="0.22">A</text>
<path d="M437.93 1108.1 L415.15 1108.1" stroke="#840000" stroke-width="1.3" fill="none"/>
<text font-size="17.18" fill="#A90000" transform="translate(426.54 1122.41) scale(0.95 1)" text-anchor="middle" stroke="#F5F4EF" stroke-width="0.22">3</text>
<text font-size="10.2" fill="#006464" transform="translate(423.72 1106.41) scale(0.65 1)" textLength="8.69" lengthAdjust="spacing" font-weight="bold" stroke="#F5F4EF" stroke-width="0.22">C</text>
<path d="M529.05 1016.98 L551.83 1016.98" stroke="#840000" stroke-width="1.3" fill="none"/>
<text font-size="17.18" fill="#A90000" transform="translate(540.44 1031.29) scale(0.95 1)" text-anchor="middle" stroke="#F5F4EF" stroke-width="0.22">8</text>
<text font-size="10.2" fill="#006464" transform="translate(532.62 1015.29) scale(0.63 1)" textLength="24.98" lengthAdjust="spacing" font-weight="bold" stroke="#F5F4EF" stroke-width="0.22">VCC</text>
<path d="M529.05 1039.76 L551.83 1039.76" stroke="#840000" stroke-width="1.3" fill="none"/>
<text font-size="17.18" fill="#A90000" transform="translate(540.44 1054.07) scale(0.95 1)" text-anchor="middle" stroke="#F5F4EF" stroke-width="0.22">7</text>
<text font-size="10.2" fill="#006464" transform="translate(535.63 1038.07) scale(0.58 1)" textLength="16.51" lengthAdjust="spacing" font-weight="bold" stroke="#F5F4EF" stroke-width="0.22">EN</text>
<path d="M529.05 1062.54 L551.83 1062.54" stroke="#840000" stroke-width="1.3" fill="none"/>
<text font-size="17.18" fill="#A90000" transform="translate(540.44 1076.85) scale(0.95 1)" text-anchor="middle" stroke="#F5F4EF" stroke-width="0.22">6</text>
<text font-size="10.2" fill="#006464" transform="translate(535.63 1060.85) scale(0.56 1)" textLength="17.17" lengthAdjust="spacing" font-weight="bold" stroke="#F5F4EF" stroke-width="0.22">VO</text>
<path d="M529.05 1108.1 L551.83 1108.1" stroke="#840000" stroke-width="1.3" fill="none"/>
<text font-size="17.18" fill="#A90000" transform="translate(540.44 1122.41) scale(0.95 1)" text-anchor="middle" stroke="#F5F4EF" stroke-width="0.22">5</text>
<text font-size="10.2" fill="#006464" transform="translate(532.12 1106.41) scale(0.63 1)" textLength="26.28" lengthAdjust="spacing" font-weight="bold" stroke="#F5F4EF" stroke-width="0.22">GND</text>
<text font-size="18.05" fill="#006464" transform="translate(473.91 966.24) scale(0.72 1)" textLength="26.74" lengthAdjust="spacing" stroke="#F5F4EF" stroke-width="0.22">U4</text>
<text font-size="18.05" fill="#006464" transform="translate(457.15 989.02) scale(0.86 1)" textLength="61.37" lengthAdjust="spacing" stroke="#F5F4EF" stroke-width="0.22">6N137</text>
<rect x="437.93" y="1187.83" width="91.12" height="136.68" stroke="#840000" stroke-width="1.9" fill="#FFFFC2"/>
<path d="M529.05 1210.61 L494.88 1210.61 L494.88 1267.56" stroke="#840000" stroke-width="1.8" fill="none" stroke-linejoin="round"/>
<path d="M529.05 1233.39 L501.94 1233.39 L501.94 1266.99" stroke="#840000" stroke-width="1.8" fill="none" stroke-linejoin="round"/>
<path d="M489.19 1261.3 L489.19 1299.45" stroke="#840000" stroke-width="1.8" fill="none" stroke-linejoin="round"/>
<path d="M489.19 1261.3 L513.33 1289.2 L514.13 1290.91 L514.13 1301.73" stroke="#840000" stroke-width="1.8" fill="none" stroke-linejoin="round"/>
<path d="M489.19 1299.45 L518 1267.56 L518 1256.17 L529.05 1256.17" stroke="#840000" stroke-width="1.8" fill="none" stroke-linejoin="round"/>
<path d="M529.05 1301.73 L494.88 1301.73 L494.88 1293.19" stroke="#840000" stroke-width="1.8" fill="none" stroke-linejoin="round"/>
<path d="M511.97 1266.99 L511.97 1262.43 L507.18 1262.43 L507.18 1295.35 L503.08 1295.35 L503.08 1290.91" stroke="#840000" stroke-width="1.8" fill="none" stroke-linejoin="round"/>
<path d="M471.64 1273.71 L484.86 1273.71" stroke="#840000" stroke-width="1.8" fill="none" stroke-linejoin="round"/>
<path d="M478.36 1273.71 L478.36 1269.38 L489.19 1269.38" stroke="#840000" stroke-width="1.8" fill="none" stroke-linejoin="round"/>
<path d="M478.36 1284.99 L478.36 1289.77 L489.19 1289.77" stroke="#840000" stroke-width="1.8" fill="none" stroke-linejoin="round"/>
<path d="M442.49 1284.64 L454.79 1284.64" stroke="#840000" stroke-width="1.8" fill="none" stroke-linejoin="round"/>
<path d="M472.1 1284.99 L484.63 1284.99 L478.36 1273.71 Z" stroke="#840000" stroke-width="1.8" fill="none"/>
<path d="M442.49 1273.26 L454.79 1273.26 L448.64 1284.64 Z" stroke="#840000" stroke-width="1.8" fill="none"/>
<path d="M437.93 1256.17 L448.64 1256.17 L448.64 1301.73 L437.93 1301.73" stroke="#840000" stroke-width="1" fill="none"/>
<path d="M457.29 1274.17 L463.56 1274.17" stroke="#840000" stroke-width="1" fill="none"/>
<path d="M457.29 1283.73 L463.56 1283.73" stroke="#840000" stroke-width="1" fill="none"/>
<path d="M465.04 1274.17 L462.42 1272.69 L462.42 1275.65 Z" stroke="#840000" stroke-width="0.6" fill="#840000"/>
<path d="M465.04 1283.73 L462.42 1282.25 L462.42 1285.21 Z" stroke="#840000" stroke-width="0.6" fill="#840000"/>
<path d="M513.79 1291.71 L511.4 1288.97 L515.15 1287.83 Z" stroke="#840000" stroke-width="0.6" fill="#840000"/>
<circle cx="501.94" cy="1269.15" r="2.05" stroke="#840000" stroke-width="1.5" fill="#FFFFC2"/>
<path d="M468.57 1200.81 L468.57 1315.74" stroke="#840000" stroke-width="1" stroke-dasharray="12 9" fill="none"/>
<path d="M437.93 1256.17 L415.15 1256.17" stroke="#840000" stroke-width="1.3" fill="none"/>
<text font-size="17.18" fill="#A90000" transform="translate(426.54 1270.48) scale(0.95 1)" text-anchor="middle" stroke="#F5F4EF" stroke-width="0.22">2</text>
<text font-size="10.2" fill="#006464" transform="translate(423.72 1254.48) scale(0.65 1)" textLength="8.69" lengthAdjust="spacing" font-weight="bold" stroke="#F5F4EF" stroke-width="0.22">A</text>
<path d="M437.93 1301.73 L415.15 1301.73" stroke="#840000" stroke-width="1.3" fill="none"/>
<text font-size="17.18" fill="#A90000" transform="translate(426.54 1316.04) scale(0.95 1)" text-anchor="middle" stroke="#F5F4EF" stroke-width="0.22">3</text>
<text font-size="10.2" fill="#006464" transform="translate(423.72 1300.04) scale(0.65 1)" textLength="8.69" lengthAdjust="spacing" font-weight="bold" stroke="#F5F4EF" stroke-width="0.22">C</text>
<path d="M529.05 1210.61 L551.83 1210.61" stroke="#840000" stroke-width="1.3" fill="none"/>
<text font-size="17.18" fill="#A90000" transform="translate(540.44 1224.92) scale(0.95 1)" text-anchor="middle" stroke="#F5F4EF" stroke-width="0.22">8</text>
<text font-size="10.2" fill="#006464" transform="translate(532.62 1208.92) scale(0.63 1)" textLength="24.98" lengthAdjust="spacing" font-weight="bold" stroke="#F5F4EF" stroke-width="0.22">VCC</text>
<path d="M529.05 1233.39 L551.83 1233.39" stroke="#840000" stroke-width="1.3" fill="none"/>
<text font-size="17.18" fill="#A90000" transform="translate(540.44 1247.7) scale(0.95 1)" text-anchor="middle" stroke="#F5F4EF" stroke-width="0.22">7</text>
<text font-size="10.2" fill="#006464" transform="translate(535.63 1231.7) scale(0.58 1)" textLength="16.51" lengthAdjust="spacing" font-weight="bold" stroke="#F5F4EF" stroke-width="0.22">EN</text>
<path d="M529.05 1256.17 L551.83 1256.17" stroke="#840000" stroke-width="1.3" fill="none"/>
<text font-size="17.18" fill="#A90000" transform="translate(540.44 1270.48) scale(0.95 1)" text-anchor="middle" stroke="#F5F4EF" stroke-width="0.22">6</text>
<text font-size="10.2" fill="#006464" transform="translate(535.63 1254.48) scale(0.56 1)" textLength="17.17" lengthAdjust="spacing" font-weight="bold" stroke="#F5F4EF" stroke-width="0.22">VO</text>
<path d="M529.05 1301.73 L551.83 1301.73" stroke="#840000" stroke-width="1.3" fill="none"/>
<text font-size="17.18" fill="#A90000" transform="translate(540.44 1316.04) scale(0.95 1)" text-anchor="middle" stroke="#F5F4EF" stroke-width="0.22">5</text>
<text font-size="10.2" fill="#006464" transform="translate(532.12 1300.04) scale(0.63 1)" textLength="26.28" lengthAdjust="spacing" font-weight="bold" stroke="#F5F4EF" stroke-width="0.22">GND</text>
<text font-size="18.05" fill="#006464" transform="translate(473.91 1159.87) scale(0.72 1)" textLength="26.74" lengthAdjust="spacing" stroke="#F5F4EF" stroke-width="0.22">U5</text>
<text font-size="18.05" fill="#006464" transform="translate(457.15 1182.65) scale(0.86 1)" textLength="61.37" lengthAdjust="spacing" stroke="#F5F4EF" stroke-width="0.22">6N137</text>
<rect x="437.93" y="1381.46" width="91.12" height="136.68" stroke="#840000" stroke-width="1.9" fill="#FFFFC2"/>
<path d="M437.93 1495.36 L472.1 1495.36 L472.1 1438.41" stroke="#840000" stroke-width="1.8" fill="none" stroke-linejoin="round"/>
<path d="M437.93 1472.58 L465.04 1472.58 L465.04 1438.98" stroke="#840000" stroke-width="1.8" fill="none" stroke-linejoin="round"/>
<path d="M477.8 1444.67 L477.8 1406.52" stroke="#840000" stroke-width="1.8" fill="none" stroke-linejoin="round"/>
<path d="M477.8 1444.67 L453.65 1416.77 L452.85 1415.06 L452.85 1404.24" stroke="#840000" stroke-width="1.8" fill="none" stroke-linejoin="round"/>
<path d="M477.8 1406.52 L448.98 1438.41 L448.98 1449.8 L437.93 1449.8" stroke="#840000" stroke-width="1.8" fill="none" stroke-linejoin="round"/>
<path d="M437.93 1404.24 L472.1 1404.24 L472.1 1412.78" stroke="#840000" stroke-width="1.8" fill="none" stroke-linejoin="round"/>
<path d="M455.02 1438.98 L455.02 1443.54 L459.8 1443.54 L459.8 1410.62 L463.9 1410.62 L463.9 1415.06" stroke="#840000" stroke-width="1.8" fill="none" stroke-linejoin="round"/>
<path d="M495.34 1432.26 L482.12 1432.26" stroke="#840000" stroke-width="1.8" fill="none" stroke-linejoin="round"/>
<path d="M488.62 1432.26 L488.62 1436.59 L477.8 1436.59" stroke="#840000" stroke-width="1.8" fill="none" stroke-linejoin="round"/>
<path d="M488.62 1420.98 L488.62 1416.2 L477.8 1416.2" stroke="#840000" stroke-width="1.8" fill="none" stroke-linejoin="round"/>
<path d="M524.49 1421.33 L512.19 1421.33" stroke="#840000" stroke-width="1.8" fill="none" stroke-linejoin="round"/>
<path d="M494.88 1420.98 L482.35 1420.98 L488.62 1432.26 Z" stroke="#840000" stroke-width="1.8" fill="none"/>
<path d="M524.49 1432.72 L512.19 1432.72 L518.34 1421.33 Z" stroke="#840000" stroke-width="1.8" fill="none"/>
<path d="M529.05 1449.8 L518.34 1449.8 L518.34 1404.24 L529.05 1404.24" stroke="#840000" stroke-width="1" fill="none"/>
<path d="M509.69 1431.8 L503.42 1431.8" stroke="#840000" stroke-width="1" fill="none"/>
<path d="M509.69 1422.24 L503.42 1422.24" stroke="#840000" stroke-width="1" fill="none"/>
<path d="M501.94 1431.8 L504.56 1433.28 L504.56 1430.32 Z" stroke="#840000" stroke-width="0.6" fill="#840000"/>
<path d="M501.94 1422.24 L504.56 1423.72 L504.56 1420.76 Z" stroke="#840000" stroke-width="0.6" fill="#840000"/>
<path d="M453.19 1414.26 L455.58 1417 L451.83 1418.14 Z" stroke="#840000" stroke-width="0.6" fill="#840000"/>
<circle cx="465.04" cy="1436.82" r="2.05" stroke="#840000" stroke-width="1.5" fill="#FFFFC2"/>
<path d="M498.41 1505.16 L498.41 1390.23" stroke="#840000" stroke-width="1" stroke-dasharray="12 9" fill="none"/>
<path d="M529.05 1449.8 L551.83 1449.8" stroke="#840000" stroke-width="1.3" fill="none"/>
<text font-size="17.18" fill="#A90000" transform="translate(540.44 1464.11) scale(0.95 1)" text-anchor="middle" stroke="#F5F4EF" stroke-width="0.22">2</text>
<text font-size="10.2" fill="#006464" transform="translate(537.62 1448.11) scale(0.65 1)" textLength="8.69" lengthAdjust="spacing" font-weight="bold" stroke="#F5F4EF" stroke-width="0.22">A</text>
<path d="M529.05 1404.24 L551.83 1404.24" stroke="#840000" stroke-width="1.3" fill="none"/>
<text font-size="17.18" fill="#A90000" transform="translate(540.44 1418.55) scale(0.95 1)" text-anchor="middle" stroke="#F5F4EF" stroke-width="0.22">3</text>
<text font-size="10.2" fill="#006464" transform="translate(537.62 1402.55) scale(0.65 1)" textLength="8.69" lengthAdjust="spacing" font-weight="bold" stroke="#F5F4EF" stroke-width="0.22">C</text>
<path d="M437.93 1495.36 L415.15 1495.36" stroke="#840000" stroke-width="1.3" fill="none"/>
<text font-size="17.18" fill="#A90000" transform="translate(426.54 1509.67) scale(0.95 1)" text-anchor="middle" stroke="#F5F4EF" stroke-width="0.22">8</text>
<text font-size="10.2" fill="#006464" transform="translate(418.72 1493.67) scale(0.63 1)" textLength="24.98" lengthAdjust="spacing" font-weight="bold" stroke="#F5F4EF" stroke-width="0.22">VCC</text>
<path d="M437.93 1472.58 L415.15 1472.58" stroke="#840000" stroke-width="1.3" fill="none"/>
<text font-size="17.18" fill="#A90000" transform="translate(426.54 1486.89) scale(0.95 1)" text-anchor="middle" stroke="#F5F4EF" stroke-width="0.22">7</text>
<text font-size="10.2" fill="#006464" transform="translate(421.73 1470.89) scale(0.58 1)" textLength="16.51" lengthAdjust="spacing" font-weight="bold" stroke="#F5F4EF" stroke-width="0.22">EN</text>
<path d="M437.93 1449.8 L415.15 1449.8" stroke="#840000" stroke-width="1.3" fill="none"/>
<text font-size="17.18" fill="#A90000" transform="translate(426.54 1464.11) scale(0.95 1)" text-anchor="middle" stroke="#F5F4EF" stroke-width="0.22">6</text>
<text font-size="10.2" fill="#006464" transform="translate(421.73 1448.11) scale(0.56 1)" textLength="17.17" lengthAdjust="spacing" font-weight="bold" stroke="#F5F4EF" stroke-width="0.22">VO</text>
<path d="M437.93 1404.24 L415.15 1404.24" stroke="#840000" stroke-width="1.3" fill="none"/>
<text font-size="17.18" fill="#A90000" transform="translate(426.54 1418.55) scale(0.95 1)" text-anchor="middle" stroke="#F5F4EF" stroke-width="0.22">5</text>
<text font-size="10.2" fill="#006464" transform="translate(418.22 1402.55) scale(0.63 1)" textLength="26.28" lengthAdjust="spacing" font-weight="bold" stroke="#F5F4EF" stroke-width="0.22">GND</text>
<text font-size="18.05" fill="#006464" transform="translate(473.91 1353.5) scale(0.72 1)" textLength="26.74" lengthAdjust="spacing" stroke="#F5F4EF" stroke-width="0.22">U6</text>
<text font-size="18.05" fill="#006464" transform="translate(457.15 1376.28) scale(0.86 1)" textLength="61.37" lengthAdjust="spacing" stroke="#F5F4EF" stroke-width="0.22">6N137</text>
<rect x="221.52" y="335.86" width="45.56" height="18.22" stroke="#840000" stroke-width="1.9" fill="none"/>
<path d="M210.13 344.97 L221.52 344.97" stroke="#840000" stroke-width="1.3" fill="none"/>
<path d="M267.08 344.97 L278.47 344.97" stroke="#840000" stroke-width="1.3" fill="none"/>
<text font-size="17.18" fill="#006464" transform="translate(223.63 328.1) scale(0.73 1)" textLength="25.46" lengthAdjust="spacing" stroke="#F5F4EF" stroke-width="0.22">R1</text>
<text font-size="17.18" fill="#006464" transform="translate(228.6 373.66) scale(0.95 1)" textLength="33.17" lengthAdjust="spacing" stroke="#F5F4EF" stroke-width="0.22">270</text>
<rect x="221.52" y="529.49" width="45.56" height="18.22" stroke="#840000" stroke-width="1.9" fill="none"/>
<path d="M210.13 538.6 L221.52 538.6" stroke="#840000" stroke-width="1.3" fill="none"/>
<path d="M267.08 538.6 L278.47 538.6" stroke="#840000" stroke-width="1.3" fill="none"/>
<text font-size="17.18" fill="#006464" transform="translate(222.92 521.73) scale(0.78 1)" textLength="25.46" lengthAdjust="spacing" stroke="#F5F4EF" stroke-width="0.22">R3</text>
<text font-size="17.18" fill="#006464" transform="translate(228.6 567.29) scale(0.95 1)" textLength="33.17" lengthAdjust="spacing" stroke="#F5F4EF" stroke-width="0.22">270</text>
<rect x="221.52" y="745.9" width="45.56" height="18.22" stroke="#840000" stroke-width="1.9" fill="none"/>
<path d="M210.13 755.01 L221.52 755.01" stroke="#840000" stroke-width="1.3" fill="none"/>
<path d="M267.08 755.01 L278.47 755.01" stroke="#840000" stroke-width="1.3" fill="none"/>
<text font-size="17.18" fill="#006464" transform="translate(222.92 738.14) scale(0.78 1)" textLength="25.46" lengthAdjust="spacing" stroke="#F5F4EF" stroke-width="0.22">R5</text>
<text font-size="17.18" fill="#006464" transform="translate(228.6 783.7) scale(0.95 1)" textLength="33.17" lengthAdjust="spacing" stroke="#F5F4EF" stroke-width="0.22">330</text>
<rect x="221.52" y="1098.99" width="45.56" height="18.22" stroke="#840000" stroke-width="1.9" fill="none"/>
<path d="M210.13 1108.1 L221.52 1108.1" stroke="#840000" stroke-width="1.3" fill="none"/>
<path d="M267.08 1108.1 L278.47 1108.1" stroke="#840000" stroke-width="1.3" fill="none"/>
<text font-size="17.18" fill="#006464" transform="translate(222.92 1091.23) scale(0.78 1)" textLength="25.46" lengthAdjust="spacing" stroke="#F5F4EF" stroke-width="0.22">R7</text>
<text font-size="17.18" fill="#006464" transform="translate(228.6 1136.79) scale(0.95 1)" textLength="33.17" lengthAdjust="spacing" stroke="#F5F4EF" stroke-width="0.22">270</text>
<rect x="221.52" y="1292.62" width="45.56" height="18.22" stroke="#840000" stroke-width="1.9" fill="none"/>
<path d="M210.13 1301.73 L221.52 1301.73" stroke="#840000" stroke-width="1.3" fill="none"/>
<path d="M267.08 1301.73 L278.47 1301.73" stroke="#840000" stroke-width="1.3" fill="none"/>
<text font-size="17.18" fill="#006464" transform="translate(222.92 1284.86) scale(0.78 1)" textLength="25.46" lengthAdjust="spacing" stroke="#F5F4EF" stroke-width="0.22">R9</text>
<text font-size="17.18" fill="#006464" transform="translate(228.6 1330.42) scale(0.95 1)" textLength="33.17" lengthAdjust="spacing" stroke="#F5F4EF" stroke-width="0.22">270</text>
<rect x="221.52" y="1509.03" width="45.56" height="18.22" stroke="#840000" stroke-width="1.9" fill="none"/>
<path d="M210.13 1518.14 L221.52 1518.14" stroke="#840000" stroke-width="1.3" fill="none"/>
<path d="M267.08 1518.14 L278.47 1518.14" stroke="#840000" stroke-width="1.3" fill="none"/>
<text font-size="17.18" fill="#006464" transform="translate(218.62 1501.27) scale(0.78 1)" textLength="36.45" lengthAdjust="spacing" stroke="#F5F4EF" stroke-width="0.22">R11</text>
<text font-size="17.18" fill="#006464" transform="translate(228.6 1546.83) scale(0.95 1)" textLength="33.17" lengthAdjust="spacing" stroke="#F5F4EF" stroke-width="0.22">330</text>
<rect x="722.68" y="358.64" width="45.56" height="18.22" stroke="#840000" stroke-width="1.9" fill="none"/>
<path d="M711.29 367.75 L722.68 367.75" stroke="#840000" stroke-width="1.3" fill="none"/>
<path d="M768.24 367.75 L779.63 367.75" stroke="#840000" stroke-width="1.3" fill="none"/>
<text font-size="17.18" fill="#006464" transform="translate(724.08 350.88) scale(0.78 1)" textLength="25.46" lengthAdjust="spacing" stroke="#F5F4EF" stroke-width="0.22">R2</text>
<text font-size="17.18" fill="#006464" transform="translate(729.76 396.44) scale(0.95 1)" textLength="33.17" lengthAdjust="spacing" stroke="#F5F4EF" stroke-width="0.22">390</text>
<rect x="722.68" y="552.27" width="45.56" height="18.22" stroke="#840000" stroke-width="1.9" fill="none"/>
<path d="M711.29 561.38 L722.68 561.38" stroke="#840000" stroke-width="1.3" fill="none"/>
<path d="M768.24 561.38 L779.63 561.38" stroke="#840000" stroke-width="1.3" fill="none"/>
<text font-size="17.18" fill="#006464" transform="translate(724.08 544.51) scale(0.78 1)" textLength="25.46" lengthAdjust="spacing" stroke="#F5F4EF" stroke-width="0.22">R4</text>
<text font-size="17.18" fill="#006464" transform="translate(729.76 590.07) scale(0.95 1)" textLength="33.17" lengthAdjust="spacing" stroke="#F5F4EF" stroke-width="0.22">390</text>
<rect x="722.68" y="632" width="45.56" height="18.22" stroke="#840000" stroke-width="1.9" fill="none"/>
<path d="M711.29 641.11 L722.68 641.11" stroke="#840000" stroke-width="1.3" fill="none"/>
<path d="M768.24 641.11 L779.63 641.11" stroke="#840000" stroke-width="1.3" fill="none"/>
<text font-size="17.18" fill="#006464" transform="translate(724.08 624.24) scale(0.78 1)" textLength="25.46" lengthAdjust="spacing" stroke="#F5F4EF" stroke-width="0.22">R6</text>
<text font-size="17.18" fill="#006464" transform="translate(729.76 669.8) scale(0.95 1)" textLength="33.17" lengthAdjust="spacing" stroke="#F5F4EF" stroke-width="0.22">470</text>
<rect x="722.68" y="1121.77" width="45.56" height="18.22" stroke="#840000" stroke-width="1.9" fill="none"/>
<path d="M711.29 1130.88 L722.68 1130.88" stroke="#840000" stroke-width="1.3" fill="none"/>
<path d="M768.24 1130.88 L779.63 1130.88" stroke="#840000" stroke-width="1.3" fill="none"/>
<text font-size="17.18" fill="#006464" transform="translate(724.08 1114.01) scale(0.78 1)" textLength="25.46" lengthAdjust="spacing" stroke="#F5F4EF" stroke-width="0.22">R8</text>
<text font-size="17.18" fill="#006464" transform="translate(729.76 1159.57) scale(0.95 1)" textLength="33.17" lengthAdjust="spacing" stroke="#F5F4EF" stroke-width="0.22">390</text>
<rect x="722.68" y="1315.4" width="45.56" height="18.22" stroke="#840000" stroke-width="1.9" fill="none"/>
<path d="M711.29 1324.51 L722.68 1324.51" stroke="#840000" stroke-width="1.3" fill="none"/>
<path d="M768.24 1324.51 L779.63 1324.51" stroke="#840000" stroke-width="1.3" fill="none"/>
<text font-size="17.18" fill="#006464" transform="translate(719.08 1307.64) scale(0.82 1)" textLength="36.45" lengthAdjust="spacing" stroke="#F5F4EF" stroke-width="0.22">R10</text>
<text font-size="17.18" fill="#006464" transform="translate(729.76 1353.2) scale(0.95 1)" textLength="33.17" lengthAdjust="spacing" stroke="#F5F4EF" stroke-width="0.22">390</text>
<rect x="722.68" y="1395.13" width="45.56" height="18.22" stroke="#840000" stroke-width="1.9" fill="none"/>
<path d="M711.29 1404.24 L722.68 1404.24" stroke="#840000" stroke-width="1.3" fill="none"/>
<path d="M768.24 1404.24 L779.63 1404.24" stroke="#840000" stroke-width="1.3" fill="none"/>
<text font-size="17.18" fill="#006464" transform="translate(719.08 1387.37) scale(0.82 1)" textLength="36.45" lengthAdjust="spacing" stroke="#F5F4EF" stroke-width="0.22">R12</text>
<text font-size="17.18" fill="#006464" transform="translate(729.76 1432.93) scale(0.95 1)" textLength="33.17" lengthAdjust="spacing" stroke="#F5F4EF" stroke-width="0.22">470</text>
<rect x="1656.66" y="404.2" width="45.56" height="18.22" stroke="#840000" stroke-width="1.9" fill="none"/>
<path d="M1645.27 413.31 L1656.66 413.31" stroke="#840000" stroke-width="1.3" fill="none"/>
<path d="M1702.22 413.31 L1713.61 413.31" stroke="#840000" stroke-width="1.3" fill="none"/>
<text font-size="17.18" fill="#006464" transform="translate(1652.36 396.44) scale(0.86 1)" textLength="36.45" lengthAdjust="spacing" stroke="#F5F4EF" stroke-width="0.22">R24</text>
<text font-size="17.18" fill="#006464" transform="translate(1663.74 442) scale(0.95 1)" textLength="33.17" lengthAdjust="spacing" stroke="#F5F4EF" stroke-width="0.22">220</text>
<rect x="1656.66" y="859.8" width="45.56" height="18.22" stroke="#840000" stroke-width="1.9" fill="none"/>
<path d="M1645.27 868.91 L1656.66 868.91" stroke="#840000" stroke-width="1.3" fill="none"/>
<path d="M1702.22 868.91 L1713.61 868.91" stroke="#840000" stroke-width="1.3" fill="none"/>
<text font-size="17.18" fill="#006464" transform="translate(1652.36 852.04) scale(0.86 1)" textLength="36.45" lengthAdjust="spacing" stroke="#F5F4EF" stroke-width="0.22">R25</text>
<text font-size="17.18" fill="#006464" transform="translate(1663.74 897.6) scale(0.95 1)" textLength="33.17" lengthAdjust="spacing" stroke="#F5F4EF" stroke-width="0.22">220</text>
<path d="M335.42 139.95 L335.42 117.17" stroke="#840000" stroke-width="1.3" fill="none"/>
<path d="M328.59 128.56 L335.42 117.17 L342.25 128.56" stroke="#840000" stroke-width="1.3" fill="none"/>
<text font-size="17.47" fill="#006464" transform="translate(311.12 111.79) scale(0.91 1)" textLength="53.26" lengthAdjust="spacing" stroke="#F5F4EF" stroke-width="0.22">+3.3V</text>
<path d="M654.34 139.95 L654.34 117.17" stroke="#840000" stroke-width="1.3" fill="none"/>
<path d="M647.51 128.56 L654.34 117.17 L661.17 128.56" stroke="#840000" stroke-width="1.3" fill="none"/>
<text font-size="17.47" fill="#006464" transform="translate(638.09 111.79) scale(0.89 1)" textLength="36.51" lengthAdjust="spacing" stroke="#F5F4EF" stroke-width="0.22">+5V</text>
<path d="M358.2 1540.92 L358.2 1552.31" stroke="#840000" stroke-width="1.3" fill="none"/>
<path d="M346.81 1552.31 L369.59 1552.31 L358.2 1563.7 Z" stroke="#840000" stroke-width="1.3" fill="none"/>
<text font-size="17.76" fill="#006464" transform="translate(336.87 1592.59) scale(0.75 1)" textLength="56.94" lengthAdjust="spacing" stroke="#F5F4EF" stroke-width="0.22">GND1</text>
<path d="M631.56 1540.92 L631.56 1552.31" stroke="#840000" stroke-width="1.3" fill="none"/>
<path d="M620.17 1552.31 L642.95 1552.31 L631.56 1563.7 Z" stroke="#840000" stroke-width="1.3" fill="none"/>
<text font-size="17.76" fill="#006464" transform="translate(610.23 1592.59) scale(0.75 1)" textLength="56.94" lengthAdjust="spacing" stroke="#F5F4EF" stroke-width="0.22">GND2</text>
<path d="M130.4 344.97 L121.4 333.47 L69.1 333.47 L69.1 356.47 L121.4 356.47 Z" stroke="#840000" stroke-width="1.2" fill="none"/>
<text font-size="17.47" fill="#840000" transform="translate(79.31 351.38) scale(0.82 1)" textLength="44.86" lengthAdjust="spacing" stroke="#F5F4EF" stroke-width="0.22">PIN1</text>
<path d="M130.4 538.6 L121.4 527.1 L78.9 527.1 L78.9 550.1 L121.4 550.1 Z" stroke="#840000" stroke-width="1.2" fill="none"/>
<text font-size="17.47" fill="#840000" transform="translate(89.12 545.01) scale(0.72 1)" textLength="37.05" lengthAdjust="spacing" stroke="#F5F4EF" stroke-width="0.22">TX0</text>
<path d="M130.4 686.67 L121.4 675.17 L76.2 675.17 L76.2 698.17 L121.4 698.17 Z" stroke="#840000" stroke-width="1.2" fill="none"/>
<text font-size="17.47" fill="#840000" transform="translate(86.42 693.08) scale(0.75 1)" textLength="39.28" lengthAdjust="spacing" stroke="#F5F4EF" stroke-width="0.22">RX0</text>
<path d="M130.4 1108.1 L121.4 1096.6 L69.2 1096.6 L69.2 1119.6 L121.4 1119.6 Z" stroke="#840000" stroke-width="1.2" fill="none"/>
<text font-size="17.47" fill="#840000" transform="translate(79.41 1114.51) scale(0.82 1)" textLength="44.86" lengthAdjust="spacing" stroke="#F5F4EF" stroke-width="0.22">PIN2</text>
<path d="M130.4 1301.73 L121.4 1290.23 L78 1290.23 L78 1313.23 L121.4 1313.23 Z" stroke="#840000" stroke-width="1.2" fill="none"/>
<text font-size="17.47" fill="#840000" transform="translate(88.22 1308.14) scale(0.69 1)" textLength="40.38" lengthAdjust="spacing" stroke="#F5F4EF" stroke-width="0.22">TXD</text>
<path d="M130.4 1449.8 L121.4 1438.3 L75.2 1438.3 L75.2 1461.3 L121.4 1461.3 Z" stroke="#840000" stroke-width="1.2" fill="none"/>
<text font-size="17.47" fill="#840000" transform="translate(85.42 1456.21) scale(0.72 1)" textLength="42.62" lengthAdjust="spacing" stroke="#F5F4EF" stroke-width="0.22">RXD</text>
<path d="M859.36 299.41 L868.36 287.91 L928.26 287.91 L928.26 310.91 L868.36 310.91 Z" stroke="#840000" stroke-width="1.2" fill="none"/>
<text font-size="17.47" fill="#840000" transform="translate(873.77 305.82) scale(0.79 1)" textLength="56.03" lengthAdjust="spacing" stroke="#F5F4EF" stroke-width="0.22">I_EN0</text>
<path d="M859.36 493.04 L868.36 481.54 L924.66 481.54 L924.66 504.54 L868.36 504.54 Z" stroke="#840000" stroke-width="1.2" fill="none"/>
<text font-size="17.47" fill="#840000" transform="translate(873.78 499.45) scale(0.76 1)" textLength="53.8" lengthAdjust="spacing" stroke="#F5F4EF" stroke-width="0.22">I_TX0</text>
<path d="M859.36 641.11 L868.36 629.61 L928.26 629.61 L928.26 652.61 L868.36 652.61 Z" stroke="#840000" stroke-width="1.2" fill="none"/>
<text font-size="17.47" fill="#840000" transform="translate(873.77 647.52) scale(0.79 1)" textLength="56.03" lengthAdjust="spacing" stroke="#F5F4EF" stroke-width="0.22">I_RX0</text>
<path d="M859.36 1062.54 L868.36 1051.04 L916.76 1051.04 L916.76 1074.04 L868.36 1074.04 Z" stroke="#840000" stroke-width="1.2" fill="none"/>
<text font-size="17.47" fill="#840000" transform="translate(873.78 1068.95) scale(0.73 1)" textLength="44.86" lengthAdjust="spacing" stroke="#F5F4EF" stroke-width="0.22">I_EN</text>
<path d="M859.36 1256.17 L868.36 1244.67 L925.96 1244.67 L925.96 1267.67 L868.36 1267.67 Z" stroke="#840000" stroke-width="1.2" fill="none"/>
<text font-size="17.47" fill="#840000" transform="translate(873.78 1262.58) scale(0.73 1)" textLength="57.13" lengthAdjust="spacing" stroke="#F5F4EF" stroke-width="0.22">I_TXD</text>
<path d="M859.36 1404.24 L868.36 1392.74 L929.16 1392.74 L929.16 1415.74 L868.36 1415.74 Z" stroke="#840000" stroke-width="1.2" fill="none"/>
<text font-size="17.47" fill="#840000" transform="translate(873.78 1410.65) scale(0.76 1)" textLength="59.37" lengthAdjust="spacing" stroke="#F5F4EF" stroke-width="0.22">I_RXD</text>
<path d="M1485.81 162.73 L1485.81 208.29" stroke="#009600" stroke-width="1.4" fill="none"/>
<path d="M1485.81 458.87 L1485.81 504.43" stroke="#009600" stroke-width="1.4" fill="none"/>
<path d="M1326.35 299.41 L1394.69 299.41" stroke="#009600" stroke-width="1.4" fill="none"/>
<path d="M1326.35 322.19 L1394.69 322.19" stroke="#009600" stroke-width="1.4" fill="none"/>
<path d="M1349.13 322.19 L1349.13 344.97 L1394.69 344.97" stroke="#009600" stroke-width="1.4" fill="none"/>
<path d="M1326.35 367.75 L1394.69 367.75" stroke="#009600" stroke-width="1.4" fill="none"/>
<circle cx="1349.13" cy="322.19" r="4.3" fill="#009600"/>
<path d="M1576.93 299.41 L1850.29 299.41" stroke="#009600" stroke-width="1.4" fill="none"/>
<path d="M1576.93 367.75 L1850.29 367.75" stroke="#009600" stroke-width="1.4" fill="none"/>
<path d="M1622.49 299.41 L1622.49 413.31 L1645.27 413.31" stroke="#009600" stroke-width="1.4" fill="none"/>
<path d="M1713.61 413.31 L1747.78 413.31 L1747.78 367.75" stroke="#009600" stroke-width="1.4" fill="none"/>
<path d="M1804.73 299.41 L1804.73 322.19 L1850.29 322.19" stroke="#009600" stroke-width="1.4" fill="none"/>
<path d="M1850.29 344.97 L1804.73 344.97 L1804.73 367.75" stroke="#009600" stroke-width="1.4" fill="none"/>
<path d="M1850.29 390.53 L1804.73 390.53 L1804.73 481.65" stroke="#009600" stroke-width="1.4" fill="none"/>
<path d="M1804.73 413.31 L1850.29 413.31" stroke="#009600" stroke-width="1.4" fill="none"/>
<path d="M1827.51 481.65 L1884.46 481.65 L1884.46 527.21" stroke="#009600" stroke-width="1.4" fill="none"/>
<circle cx="1622.49" cy="299.41" r="4.3" fill="#009600"/>
<circle cx="1804.73" cy="299.41" r="4.3" fill="#009600"/>
<circle cx="1747.78" cy="367.75" r="4.3" fill="#009600"/>
<circle cx="1804.73" cy="367.75" r="4.3" fill="#009600"/>
<circle cx="1804.73" cy="413.31" r="4.3" fill="#009600"/>
<rect x="1417.47" y="231.07" width="136.68" height="205.02" stroke="#840000" stroke-width="1.9" fill="#FFFFC2"/>
<path d="M1449.13 299.41 L1476.01 299.41" stroke="#840000" stroke-width="1.8" fill="none"/>
<path d="M1449.13 322.19 L1486.15 322.19 L1486.15 311.94" stroke="#840000" stroke-width="1.8" fill="none"/>
<path d="M1534.79 299.41 L1526.02 299.41 L1526.02 305.11 L1497.2 305.11" stroke="#840000" stroke-width="1.8" fill="none"/>
<path d="M1508.59 305.11 L1508.59 356.93 L1485.81 356.93" stroke="#840000" stroke-width="1.8" fill="none"/>
<path d="M1497.2 293.72 L1519.98 293.72 L1519.98 367.75" stroke="#840000" stroke-width="1.8" fill="none"/>
<path d="M1483.53 367.75 L1534.79 367.75" stroke="#840000" stroke-width="1.8" fill="none"/>
<path d="M1449.13 367.75 L1468.73 367.75" stroke="#840000" stroke-width="1.8" fill="none"/>
<path d="M1449.13 344.97 L1474.88 344.97 L1474.88 353.4" stroke="#840000" stroke-width="1.8" fill="none"/>
<path d="M1497.2 288.02 L1497.2 310.8 L1476.01 299.41 Z" stroke="#840000" stroke-width="1.8" fill="none"/>
<path d="M1468.73 350.67 L1468.73 373.44 L1492.64 362.06 Z" stroke="#840000" stroke-width="1.8" fill="none"/>
<circle cx="1486.15" cy="309.09" r="3.2" fill="#840000"/>
<circle cx="1500.96" cy="304.88" r="3.2" fill="#840000"/>
<circle cx="1483.19" cy="354.77" r="3.2" fill="#840000"/>
<path d="M1394.69 299.41 L1417.47 299.41" stroke="#840000" stroke-width="1.3" fill="none"/>
<text font-size="16.74" fill="#A90000" transform="translate(1406.08 295.62) scale(0.95 1)" text-anchor="middle" stroke="#F5F4EF" stroke-width="0.22">1</text>
<text font-size="16.89" fill="#006464" transform="translate(1423.59 304.92) scale(0.7 1)" textLength="29.34" lengthAdjust="spacing" stroke="#F5F4EF" stroke-width="0.22">RO</text>
<path d="M1394.69 322.19 L1417.47 322.19" stroke="#840000" stroke-width="1.3" fill="none"/>
<text font-size="16.74" fill="#A90000" transform="translate(1406.08 318.4) scale(0.95 1)" text-anchor="middle" stroke="#F5F4EF" stroke-width="0.22">2</text>
<text font-size="16.89" fill="#006464" transform="translate(1423.59 327.7) scale(0.72 1)" textLength="27.19" lengthAdjust="spacing" stroke="#F5F4EF" stroke-width="0.22">RE</text>
<path d="M1422.87 313.59 L1442.87 313.59" stroke="#006464" stroke-width="1.2" fill="none"/>
<path d="M1394.69 344.97 L1417.47 344.97" stroke="#840000" stroke-width="1.3" fill="none"/>
<text font-size="16.74" fill="#A90000" transform="translate(1406.08 341.18) scale(0.95 1)" text-anchor="middle" stroke="#F5F4EF" stroke-width="0.22">3</text>
<text font-size="16.89" fill="#006464" transform="translate(1423.59 350.48) scale(0.72 1)" textLength="27.19" lengthAdjust="spacing" stroke="#F5F4EF" stroke-width="0.22">DE</text>
<path d="M1394.69 367.75 L1417.47 367.75" stroke="#840000" stroke-width="1.3" fill="none"/>
<text font-size="16.74" fill="#A90000" transform="translate(1406.08 363.96) scale(0.95 1)" text-anchor="middle" stroke="#F5F4EF" stroke-width="0.22">4</text>
<text font-size="16.89" fill="#006464" transform="translate(1423.6 373.26) scale(0.64 1)" textLength="19.63" lengthAdjust="spacing" stroke="#F5F4EF" stroke-width="0.22">DI</text>
<path d="M1554.15 299.41 L1576.93 299.41" stroke="#840000" stroke-width="1.3" fill="none"/>
<text font-size="16.74" fill="#A90000" transform="translate(1564.54 295.62) scale(0.95 1)" text-anchor="middle" stroke="#F5F4EF" stroke-width="0.22">7</text>
<text font-size="16.89" fill="#006464" transform="translate(1539.87 304.92) scale(0.7 1)" textLength="13.17" lengthAdjust="spacing" stroke="#F5F4EF" stroke-width="0.22">B</text>
<path d="M1554.15 367.75 L1576.93 367.75" stroke="#840000" stroke-width="1.3" fill="none"/>
<text font-size="16.74" fill="#A90000" transform="translate(1564.54 363.96) scale(0.95 1)" text-anchor="middle" stroke="#F5F4EF" stroke-width="0.22">6</text>
<text font-size="16.89" fill="#006464" transform="translate(1539.87 373.26) scale(0.7 1)" textLength="13.17" lengthAdjust="spacing" stroke="#F5F4EF" stroke-width="0.22">A</text>
<path d="M1485.81 231.07 L1485.81 208.29" stroke="#840000" stroke-width="1.3" fill="none"/>
<path d="M1485.81 436.09 L1485.81 458.87" stroke="#840000" stroke-width="1.3" fill="none"/>
<text font-size="16.74" fill="#A90000" transform="translate(1481.61 219.79) rotate(-90) scale(0.95 1)" text-anchor="middle" stroke="#F5F4EF" stroke-width="0.22">8</text>
<text font-size="16.74" fill="#A90000" transform="translate(1481.61 447.59) rotate(-90) scale(0.95 1)" text-anchor="middle" stroke="#F5F4EF" stroke-width="0.22">5</text>
<text font-size="16.89" fill="#006464" transform="translate(1491.33 267.68) rotate(-90) scale(0.72 1)" textLength="41.21" lengthAdjust="spacing" stroke="#F5F4EF" stroke-width="0.22">VCC</text>
<text font-size="16.89" fill="#006464" transform="translate(1491.33 430.6) rotate(-90) scale(0.75 1)" textLength="43.36" lengthAdjust="spacing" stroke="#F5F4EF" stroke-width="0.22">GND</text>
<text font-size="18.63" fill="#006464" transform="translate(1505.53 203.31) scale(0.77 1)" textLength="27.6" lengthAdjust="spacing" stroke="#F5F4EF" stroke-width="0.22">U7</text>
<text font-size="18.34" fill="#006464" transform="translate(1505.53 225.99) scale(0.77 1)" textLength="95.15" lengthAdjust="spacing" stroke="#F5F4EF" stroke-width="0.22">MAX485E</text>
<path d="M1485.81 162.73 L1485.81 139.95" stroke="#840000" stroke-width="1.3" fill="none"/>
<path d="M1478.98 151.34 L1485.81 139.95 L1492.64 151.34" stroke="#840000" stroke-width="1.3" fill="none"/>
<text font-size="17.47" fill="#006464" transform="translate(1469.56 134.57) scale(0.89 1)" textLength="36.51" lengthAdjust="spacing" stroke="#F5F4EF" stroke-width="0.22">+5V</text>
<path d="M1485.81 504.43 L1485.81 515.82" stroke="#840000" stroke-width="1.3" fill="none"/>
<path d="M1474.42 515.82 L1497.2 515.82 L1485.81 527.21 Z" stroke="#840000" stroke-width="1.3" fill="none"/>
<text font-size="17.76" fill="#006464" transform="translate(1464.48 556.1) scale(0.75 1)" textLength="56.94" lengthAdjust="spacing" stroke="#F5F4EF" stroke-width="0.22">GND2</text>
<path d="M1884.46 527.21 L1884.46 538.6" stroke="#840000" stroke-width="1.3" fill="none"/>
<path d="M1873.07 538.6 L1895.85 538.6 L1884.46 549.99 Z" stroke="#840000" stroke-width="1.3" fill="none"/>
<text font-size="17.76" fill="#006464" transform="translate(1863.13 578.88) scale(0.75 1)" textLength="56.94" lengthAdjust="spacing" stroke="#F5F4EF" stroke-width="0.22">GND2</text>
<rect x="1895.85" y="276.63" width="68.34" height="159.46" stroke="#840000" stroke-width="1.2" fill="none"/>
<path d="M1850.29 299.41 L1941.41 299.41" stroke="#840000" stroke-width="1.2" fill="none"/>
<path d="M1930.02 292.35 L1941.41 299.41 L1930.02 306.47" stroke="#840000" stroke-width="1.2" fill="none"/>
<text font-size="17.47" fill="#A90000" transform="translate(1873.07 295.52) scale(0.95 1)" text-anchor="middle" stroke="#F5F4EF" stroke-width="0.22">6</text>
<path d="M1850.29 322.19 L1941.41 322.19" stroke="#840000" stroke-width="1.2" fill="none"/>
<path d="M1930.02 315.13 L1941.41 322.19 L1930.02 329.25" stroke="#840000" stroke-width="1.2" fill="none"/>
<text font-size="17.47" fill="#A90000" transform="translate(1873.07 318.3) scale(0.95 1)" text-anchor="middle" stroke="#F5F4EF" stroke-width="0.22">5</text>
<path d="M1850.29 344.97 L1941.41 344.97" stroke="#840000" stroke-width="1.2" fill="none"/>
<path d="M1930.02 337.91 L1941.41 344.97 L1930.02 352.03" stroke="#840000" stroke-width="1.2" fill="none"/>
<text font-size="17.47" fill="#A90000" transform="translate(1873.07 341.08) scale(0.95 1)" text-anchor="middle" stroke="#F5F4EF" stroke-width="0.22">4</text>
<path d="M1850.29 367.75 L1941.41 367.75" stroke="#840000" stroke-width="1.2" fill="none"/>
<path d="M1930.02 360.69 L1941.41 367.75 L1930.02 374.81" stroke="#840000" stroke-width="1.2" fill="none"/>
<text font-size="17.47" fill="#A90000" transform="translate(1873.07 363.86) scale(0.95 1)" text-anchor="middle" stroke="#F5F4EF" stroke-width="0.22">3</text>
<path d="M1850.29 390.53 L1941.41 390.53" stroke="#840000" stroke-width="1.2" fill="none"/>
<path d="M1930.02 383.47 L1941.41 390.53 L1930.02 397.59" stroke="#840000" stroke-width="1.2" fill="none"/>
<text font-size="17.47" fill="#A90000" transform="translate(1873.07 386.64) scale(0.95 1)" text-anchor="middle" stroke="#F5F4EF" stroke-width="0.22">2</text>
<path d="M1850.29 413.31 L1941.41 413.31" stroke="#840000" stroke-width="1.2" fill="none"/>
<path d="M1930.02 406.25 L1941.41 413.31 L1930.02 420.37" stroke="#840000" stroke-width="1.2" fill="none"/>
<text font-size="17.47" fill="#A90000" transform="translate(1873.07 409.42) scale(0.95 1)" text-anchor="middle" stroke="#F5F4EF" stroke-width="0.22">1</text>
<text font-size="18.92" fill="#006464" transform="translate(1898.35 454.09) scale(0.89 1)" textLength="23.19" lengthAdjust="spacing" stroke="#F5F4EF" stroke-width="0.22">J6</text>
<rect x="1793.34" y="515.82" width="45.56" height="22.78" stroke="#840000" stroke-width="1.9" fill="#FFFFC2"/>
<path d="M1804.73 481.65 L1804.73 515.82" stroke="#840000" stroke-width="1.3" fill="none"/>
<rect x="1803.13" y="515.82" width="3.2" height="11.39" stroke="#840000" stroke-width="1" fill="none"/>
<text font-size="18.49" fill="#A90000" transform="translate(1801.73 498.85) rotate(-90) scale(0.95 1)" text-anchor="middle" stroke="#F5F4EF" stroke-width="0.22">2</text>
<path d="M1827.51 481.65 L1827.51 515.82" stroke="#840000" stroke-width="1.3" fill="none"/>
<rect x="1825.91" y="515.82" width="3.2" height="11.39" stroke="#840000" stroke-width="1" fill="none"/>
<text font-size="18.49" fill="#A90000" transform="translate(1824.51 498.85) rotate(-90) scale(0.95 1)" text-anchor="middle" stroke="#F5F4EF" stroke-width="0.22">1</text>
<text font-size="17.47" fill="#006464" transform="translate(1795.65 556) scale(0.78 1)" textLength="21.43" lengthAdjust="spacing" stroke="#F5F4EF" stroke-width="0.22">J8</text>
<path d="M1326.35 299.41 L1317.35 287.91 L1257.45 287.91 L1257.45 310.91 L1317.35 310.91 Z" stroke="#840000" stroke-width="1.2" fill="none"/>
<text font-size="17.47" fill="#840000" transform="translate(1267.66 305.82) scale(0.79 1)" textLength="56.03" lengthAdjust="spacing" stroke="#F5F4EF" stroke-width="0.22">I_RX0</text>
<path d="M1326.35 322.19 L1317.35 310.69 L1257.45 310.69 L1257.45 333.69 L1317.35 333.69 Z" stroke="#840000" stroke-width="1.2" fill="none"/>
<text font-size="17.47" fill="#840000" transform="translate(1267.66 328.6) scale(0.79 1)" textLength="56.03" lengthAdjust="spacing" stroke="#F5F4EF" stroke-width="0.22">I_EN0</text>
<path d="M1326.35 367.75 L1317.35 356.25 L1261.05 356.25 L1261.05 379.25 L1317.35 379.25 Z" stroke="#840000" stroke-width="1.2" fill="none"/>
<text font-size="17.47" fill="#840000" transform="translate(1271.27 374.16) scale(0.76 1)" textLength="53.8" lengthAdjust="spacing" stroke="#F5F4EF" stroke-width="0.22">I_TX0</text>
<path d="M1485.81 618.33 L1485.81 663.89" stroke="#009600" stroke-width="1.4" fill="none"/>
<path d="M1485.81 914.47 L1485.81 960.03" stroke="#009600" stroke-width="1.4" fill="none"/>
<path d="M1326.35 755.01 L1394.69 755.01" stroke="#009600" stroke-width="1.4" fill="none"/>
<path d="M1326.35 777.79 L1394.69 777.79" stroke="#009600" stroke-width="1.4" fill="none"/>
<path d="M1349.13 777.79 L1349.13 800.57 L1394.69 800.57" stroke="#009600" stroke-width="1.4" fill="none"/>
<path d="M1326.35 823.35 L1394.69 823.35" stroke="#009600" stroke-width="1.4" fill="none"/>
<circle cx="1349.13" cy="777.79" r="4.3" fill="#009600"/>
<path d="M1576.93 755.01 L1850.29 755.01" stroke="#009600" stroke-width="1.4" fill="none"/>
<path d="M1576.93 823.35 L1850.29 823.35" stroke="#009600" stroke-width="1.4" fill="none"/>
<path d="M1622.49 755.01 L1622.49 868.91 L1645.27 868.91" stroke="#009600" stroke-width="1.4" fill="none"/>
<path d="M1713.61 868.91 L1747.78 868.91 L1747.78 823.35" stroke="#009600" stroke-width="1.4" fill="none"/>
<path d="M1804.73 755.01 L1804.73 777.79 L1850.29 777.79" stroke="#009600" stroke-width="1.4" fill="none"/>
<path d="M1850.29 800.57 L1804.73 800.57 L1804.73 823.35" stroke="#009600" stroke-width="1.4" fill="none"/>
<path d="M1850.29 846.13 L1804.73 846.13 L1804.73 937.25" stroke="#009600" stroke-width="1.4" fill="none"/>
<path d="M1804.73 868.91 L1850.29 868.91" stroke="#009600" stroke-width="1.4" fill="none"/>
<path d="M1827.51 937.25 L1884.46 937.25 L1884.46 982.81" stroke="#009600" stroke-width="1.4" fill="none"/>
<circle cx="1622.49" cy="755.01" r="4.3" fill="#009600"/>
<circle cx="1804.73" cy="755.01" r="4.3" fill="#009600"/>
<circle cx="1747.78" cy="823.35" r="4.3" fill="#009600"/>
<circle cx="1804.73" cy="823.35" r="4.3" fill="#009600"/>
<circle cx="1804.73" cy="868.91" r="4.3" fill="#009600"/>
<rect x="1417.47" y="686.67" width="136.68" height="205.02" stroke="#840000" stroke-width="1.9" fill="#FFFFC2"/>
<path d="M1449.13 755.01 L1476.01 755.01" stroke="#840000" stroke-width="1.8" fill="none"/>
<path d="M1449.13 777.79 L1486.15 777.79 L1486.15 767.54" stroke="#840000" stroke-width="1.8" fill="none"/>
<path d="M1534.79 755.01 L1526.02 755.01 L1526.02 760.71 L1497.2 760.71" stroke="#840000" stroke-width="1.8" fill="none"/>
<path d="M1508.59 760.71 L1508.59 812.53 L1485.81 812.53" stroke="#840000" stroke-width="1.8" fill="none"/>
<path d="M1497.2 749.32 L1519.98 749.32 L1519.98 823.35" stroke="#840000" stroke-width="1.8" fill="none"/>
<path d="M1483.53 823.35 L1534.79 823.35" stroke="#840000" stroke-width="1.8" fill="none"/>
<path d="M1449.13 823.35 L1468.73 823.35" stroke="#840000" stroke-width="1.8" fill="none"/>
<path d="M1449.13 800.57 L1474.88 800.57 L1474.88 809" stroke="#840000" stroke-width="1.8" fill="none"/>
<path d="M1497.2 743.62 L1497.2 766.4 L1476.01 755.01 Z" stroke="#840000" stroke-width="1.8" fill="none"/>
<path d="M1468.73 806.26 L1468.73 829.05 L1492.64 817.66 Z" stroke="#840000" stroke-width="1.8" fill="none"/>
<circle cx="1486.15" cy="764.69" r="3.2" fill="#840000"/>
<circle cx="1500.96" cy="760.48" r="3.2" fill="#840000"/>
<circle cx="1483.19" cy="810.37" r="3.2" fill="#840000"/>
<path d="M1394.69 755.01 L1417.47 755.01" stroke="#840000" stroke-width="1.3" fill="none"/>
<text font-size="16.74" fill="#A90000" transform="translate(1406.08 751.22) scale(0.95 1)" text-anchor="middle" stroke="#F5F4EF" stroke-width="0.22">1</text>
<text font-size="16.89" fill="#006464" transform="translate(1423.59 760.52) scale(0.7 1)" textLength="29.34" lengthAdjust="spacing" stroke="#F5F4EF" stroke-width="0.22">RO</text>
<path d="M1394.69 777.79 L1417.47 777.79" stroke="#840000" stroke-width="1.3" fill="none"/>
<text font-size="16.74" fill="#A90000" transform="translate(1406.08 774) scale(0.95 1)" text-anchor="middle" stroke="#F5F4EF" stroke-width="0.22">2</text>
<text font-size="16.89" fill="#006464" transform="translate(1423.59 783.3) scale(0.72 1)" textLength="27.19" lengthAdjust="spacing" stroke="#F5F4EF" stroke-width="0.22">RE</text>
<path d="M1422.87 769.19 L1442.87 769.19" stroke="#006464" stroke-width="1.2" fill="none"/>
<path d="M1394.69 800.57 L1417.47 800.57" stroke="#840000" stroke-width="1.3" fill="none"/>
<text font-size="16.74" fill="#A90000" transform="translate(1406.08 796.78) scale(0.95 1)" text-anchor="middle" stroke="#F5F4EF" stroke-width="0.22">3</text>
<text font-size="16.89" fill="#006464" transform="translate(1423.59 806.08) scale(0.72 1)" textLength="27.19" lengthAdjust="spacing" stroke="#F5F4EF" stroke-width="0.22">DE</text>
<path d="M1394.69 823.35 L1417.47 823.35" stroke="#840000" stroke-width="1.3" fill="none"/>
<text font-size="16.74" fill="#A90000" transform="translate(1406.08 819.56) scale(0.95 1)" text-anchor="middle" stroke="#F5F4EF" stroke-width="0.22">4</text>
<text font-size="16.89" fill="#006464" transform="translate(1423.6 828.86) scale(0.64 1)" textLength="19.63" lengthAdjust="spacing" stroke="#F5F4EF" stroke-width="0.22">DI</text>
<path d="M1554.15 755.01 L1576.93 755.01" stroke="#840000" stroke-width="1.3" fill="none"/>
<text font-size="16.74" fill="#A90000" transform="translate(1564.54 751.22) scale(0.95 1)" text-anchor="middle" stroke="#F5F4EF" stroke-width="0.22">7</text>
<text font-size="16.89" fill="#006464" transform="translate(1539.87 760.52) scale(0.7 1)" textLength="13.17" lengthAdjust="spacing" stroke="#F5F4EF" stroke-width="0.22">B</text>
<path d="M1554.15 823.35 L1576.93 823.35" stroke="#840000" stroke-width="1.3" fill="none"/>
<text font-size="16.74" fill="#A90000" transform="translate(1564.54 819.56) scale(0.95 1)" text-anchor="middle" stroke="#F5F4EF" stroke-width="0.22">6</text>
<text font-size="16.89" fill="#006464" transform="translate(1539.87 828.86) scale(0.7 1)" textLength="13.17" lengthAdjust="spacing" stroke="#F5F4EF" stroke-width="0.22">A</text>
<path d="M1485.81 686.67 L1485.81 663.89" stroke="#840000" stroke-width="1.3" fill="none"/>
<path d="M1485.81 891.69 L1485.81 914.47" stroke="#840000" stroke-width="1.3" fill="none"/>
<text font-size="16.74" fill="#A90000" transform="translate(1481.61 675.39) rotate(-90) scale(0.95 1)" text-anchor="middle" stroke="#F5F4EF" stroke-width="0.22">8</text>
<text font-size="16.74" fill="#A90000" transform="translate(1481.61 903.19) rotate(-90) scale(0.95 1)" text-anchor="middle" stroke="#F5F4EF" stroke-width="0.22">5</text>
<text font-size="16.89" fill="#006464" transform="translate(1491.33 723.28) rotate(-90) scale(0.72 1)" textLength="41.21" lengthAdjust="spacing" stroke="#F5F4EF" stroke-width="0.22">VCC</text>
<text font-size="16.89" fill="#006464" transform="translate(1491.33 886.2) rotate(-90) scale(0.75 1)" textLength="43.36" lengthAdjust="spacing" stroke="#F5F4EF" stroke-width="0.22">GND</text>
<text font-size="18.63" fill="#006464" transform="translate(1505.53 658.91) scale(0.77 1)" textLength="27.6" lengthAdjust="spacing" stroke="#F5F4EF" stroke-width="0.22">U8</text>
<text font-size="18.34" fill="#006464" transform="translate(1505.53 681.59) scale(0.77 1)" textLength="95.15" lengthAdjust="spacing" stroke="#F5F4EF" stroke-width="0.22">MAX485E</text>
<path d="M1485.81 618.33 L1485.81 595.55" stroke="#840000" stroke-width="1.3" fill="none"/>
<path d="M1478.98 606.94 L1485.81 595.55 L1492.64 606.94" stroke="#840000" stroke-width="1.3" fill="none"/>
<text font-size="17.47" fill="#006464" transform="translate(1469.56 590.17) scale(0.89 1)" textLength="36.51" lengthAdjust="spacing" stroke="#F5F4EF" stroke-width="0.22">+5V</text>
<path d="M1485.81 960.03 L1485.81 971.42" stroke="#840000" stroke-width="1.3" fill="none"/>
<path d="M1474.42 971.42 L1497.2 971.42 L1485.81 982.81 Z" stroke="#840000" stroke-width="1.3" fill="none"/>
<text font-size="17.76" fill="#006464" transform="translate(1464.48 1011.7) scale(0.75 1)" textLength="56.94" lengthAdjust="spacing" stroke="#F5F4EF" stroke-width="0.22">GND2</text>
<path d="M1884.46 982.81 L1884.46 994.2" stroke="#840000" stroke-width="1.3" fill="none"/>
<path d="M1873.07 994.2 L1895.85 994.2 L1884.46 1005.59 Z" stroke="#840000" stroke-width="1.3" fill="none"/>
<text font-size="17.76" fill="#006464" transform="translate(1863.13 1034.48) scale(0.75 1)" textLength="56.94" lengthAdjust="spacing" stroke="#F5F4EF" stroke-width="0.22">GND2</text>
<rect x="1895.85" y="732.23" width="68.34" height="159.46" stroke="#840000" stroke-width="1.2" fill="none"/>
<path d="M1850.29 755.01 L1941.41 755.01" stroke="#840000" stroke-width="1.2" fill="none"/>
<path d="M1930.02 747.95 L1941.41 755.01 L1930.02 762.07" stroke="#840000" stroke-width="1.2" fill="none"/>
<text font-size="17.47" fill="#A90000" transform="translate(1873.07 751.12) scale(0.95 1)" text-anchor="middle" stroke="#F5F4EF" stroke-width="0.22">6</text>
<path d="M1850.29 777.79 L1941.41 777.79" stroke="#840000" stroke-width="1.2" fill="none"/>
<path d="M1930.02 770.73 L1941.41 777.79 L1930.02 784.85" stroke="#840000" stroke-width="1.2" fill="none"/>
<text font-size="17.47" fill="#A90000" transform="translate(1873.07 773.9) scale(0.95 1)" text-anchor="middle" stroke="#F5F4EF" stroke-width="0.22">5</text>
<path d="M1850.29 800.57 L1941.41 800.57" stroke="#840000" stroke-width="1.2" fill="none"/>
<path d="M1930.02 793.51 L1941.41 800.57 L1930.02 807.63" stroke="#840000" stroke-width="1.2" fill="none"/>
<text font-size="17.47" fill="#A90000" transform="translate(1873.07 796.68) scale(0.95 1)" text-anchor="middle" stroke="#F5F4EF" stroke-width="0.22">4</text>
<path d="M1850.29 823.35 L1941.41 823.35" stroke="#840000" stroke-width="1.2" fill="none"/>
<path d="M1930.02 816.29 L1941.41 823.35 L1930.02 830.41" stroke="#840000" stroke-width="1.2" fill="none"/>
<text font-size="17.47" fill="#A90000" transform="translate(1873.07 819.46) scale(0.95 1)" text-anchor="middle" stroke="#F5F4EF" stroke-width="0.22">3</text>
<path d="M1850.29 846.13 L1941.41 846.13" stroke="#840000" stroke-width="1.2" fill="none"/>
<path d="M1930.02 839.07 L1941.41 846.13 L1930.02 853.19" stroke="#840000" stroke-width="1.2" fill="none"/>
<text font-size="17.47" fill="#A90000" transform="translate(1873.07 842.24) scale(0.95 1)" text-anchor="middle" stroke="#F5F4EF" stroke-width="0.22">2</text>
<path d="M1850.29 868.91 L1941.41 868.91" stroke="#840000" stroke-width="1.2" fill="none"/>
<path d="M1930.02 861.85 L1941.41 868.91 L1930.02 875.97" stroke="#840000" stroke-width="1.2" fill="none"/>
<text font-size="17.47" fill="#A90000" transform="translate(1873.07 865.02) scale(0.95 1)" text-anchor="middle" stroke="#F5F4EF" stroke-width="0.22">1</text>
<text font-size="18.92" fill="#006464" transform="translate(1898.35 909.69) scale(0.89 1)" textLength="23.19" lengthAdjust="spacing" stroke="#F5F4EF" stroke-width="0.22">J7</text>
<rect x="1793.34" y="971.42" width="45.56" height="22.78" stroke="#840000" stroke-width="1.9" fill="#FFFFC2"/>
<path d="M1804.73 937.25 L1804.73 971.42" stroke="#840000" stroke-width="1.3" fill="none"/>
<rect x="1803.13" y="971.42" width="3.2" height="11.39" stroke="#840000" stroke-width="1" fill="none"/>
<text font-size="18.49" fill="#A90000" transform="translate(1801.73 954.45) rotate(-90) scale(0.95 1)" text-anchor="middle" stroke="#F5F4EF" stroke-width="0.22">2</text>
<path d="M1827.51 937.25 L1827.51 971.42" stroke="#840000" stroke-width="1.3" fill="none"/>
<rect x="1825.91" y="971.42" width="3.2" height="11.39" stroke="#840000" stroke-width="1" fill="none"/>
<text font-size="18.49" fill="#A90000" transform="translate(1824.51 954.45) rotate(-90) scale(0.95 1)" text-anchor="middle" stroke="#F5F4EF" stroke-width="0.22">1</text>
<text font-size="17.47" fill="#006464" transform="translate(1795.65 1011.6) scale(0.78 1)" textLength="21.43" lengthAdjust="spacing" stroke="#F5F4EF" stroke-width="0.22">J9</text>
<path d="M1326.35 755.01 L1317.35 743.51 L1256.55 743.51 L1256.55 766.51 L1317.35 766.51 Z" stroke="#840000" stroke-width="1.2" fill="none"/>
<text font-size="17.47" fill="#840000" transform="translate(1266.77 761.42) scale(0.76 1)" textLength="59.37" lengthAdjust="spacing" stroke="#F5F4EF" stroke-width="0.22">I_RXD</text>
<path d="M1326.35 777.79 L1317.35 766.29 L1268.95 766.29 L1268.95 789.29 L1317.35 789.29 Z" stroke="#840000" stroke-width="1.2" fill="none"/>
<text font-size="17.47" fill="#840000" transform="translate(1279.17 784.2) scale(0.73 1)" textLength="44.86" lengthAdjust="spacing" stroke="#F5F4EF" stroke-width="0.22">I_EN</text>
<path d="M1326.35 823.35 L1317.35 811.85 L1259.75 811.85 L1259.75 834.85 L1317.35 834.85 Z" stroke="#840000" stroke-width="1.2" fill="none"/>
<text font-size="17.47" fill="#840000" transform="translate(1269.97 829.76) scale(0.73 1)" textLength="57.13" lengthAdjust="spacing" stroke="#F5F4EF" stroke-width="0.22">I_TXD</text>
<path d="M1371.91 1130.88 L1371.91 1176.44 L1417.47 1176.44" stroke="#009600" stroke-width="1.4" fill="none"/>
<path d="M1371.91 1199.22 L1417.47 1199.22" stroke="#009600" stroke-width="1.4" fill="none"/>
<path d="M1417.47 1222 L1371.91 1222 L1371.91 1267.56" stroke="#009600" stroke-width="1.4" fill="none"/>
<path d="M1371.91 1130.88 L1371.91 1108.1" stroke="#840000" stroke-width="1.3" fill="none"/>
<path d="M1365.08 1119.49 L1371.91 1108.1 L1378.74 1119.49" stroke="#840000" stroke-width="1.3" fill="none"/>
<text font-size="17.47" fill="#006464" transform="translate(1355.66 1102.72) scale(0.89 1)" textLength="36.51" lengthAdjust="spacing" stroke="#F5F4EF" stroke-width="0.22">+5V</text>
<path d="M1371.91 1267.56 L1371.91 1278.95" stroke="#840000" stroke-width="1.3" fill="none"/>
<path d="M1360.52 1278.95 L1383.3 1278.95 L1371.91 1290.34 Z" stroke="#840000" stroke-width="1.3" fill="none"/>
<text font-size="17.76" fill="#006464" transform="translate(1350.58 1319.23) scale(0.75 1)" textLength="56.94" lengthAdjust="spacing" stroke="#F5F4EF" stroke-width="0.22">GND2</text>
<path d="M1371.91 1199.22 L1362.91 1187.72 L1303.01 1187.72 L1303.01 1210.72 L1362.91 1210.72 Z" stroke="#840000" stroke-width="1.2" fill="none"/>
<text font-size="17.47" fill="#840000" transform="translate(1313.22 1205.63) scale(0.79 1)" textLength="56.03" lengthAdjust="spacing" stroke="#F5F4EF" stroke-width="0.22">I_EN0</text>
<rect x="1451.64" y="1165.05" width="22.78" height="68.34" stroke="#840000" stroke-width="1.9" fill="#FFFFC2"/>
<path d="M1417.47 1176.44 L1451.64 1176.44" stroke="#840000" stroke-width="1.3" fill="none"/>
<rect x="1451.64" y="1174.84" width="11.96" height="3.2" stroke="#840000" stroke-width="1" fill="none"/>
<text font-size="16.74" fill="#A90000" transform="translate(1434.56 1172.65) scale(0.95 1)" text-anchor="middle" stroke="#F5F4EF" stroke-width="0.22">1</text>
<path d="M1417.47 1199.22 L1451.64 1199.22" stroke="#840000" stroke-width="1.3" fill="none"/>
<rect x="1451.64" y="1197.62" width="11.96" height="3.2" stroke="#840000" stroke-width="1" fill="none"/>
<text font-size="16.74" fill="#A90000" transform="translate(1434.56 1195.43) scale(0.95 1)" text-anchor="middle" stroke="#F5F4EF" stroke-width="0.22">2</text>
<path d="M1417.47 1222 L1451.64 1222" stroke="#840000" stroke-width="1.3" fill="none"/>
<rect x="1451.64" y="1220.4" width="11.96" height="3.2" stroke="#840000" stroke-width="1" fill="none"/>
<text font-size="16.74" fill="#A90000" transform="translate(1434.56 1218.21) scale(0.95 1)" text-anchor="middle" stroke="#F5F4EF" stroke-width="0.22">3</text>
<text font-size="17.47" fill="#006464" transform="translate(1454.55 1159.67) scale(0.77 1)" textLength="21.43" lengthAdjust="spacing" stroke="#F5F4EF" stroke-width="0.22">J4</text>
<path d="M1633.88 1130.88 L1633.88 1176.44 L1679.44 1176.44" stroke="#009600" stroke-width="1.4" fill="none"/>
<path d="M1633.88 1199.22 L1679.44 1199.22" stroke="#009600" stroke-width="1.4" fill="none"/>
<path d="M1679.44 1222 L1633.88 1222 L1633.88 1267.56" stroke="#009600" stroke-width="1.4" fill="none"/>
<path d="M1633.88 1130.88 L1633.88 1108.1" stroke="#840000" stroke-width="1.3" fill="none"/>
<path d="M1627.05 1119.49 L1633.88 1108.1 L1640.71 1119.49" stroke="#840000" stroke-width="1.3" fill="none"/>
<text font-size="17.47" fill="#006464" transform="translate(1617.63 1102.72) scale(0.89 1)" textLength="36.51" lengthAdjust="spacing" stroke="#F5F4EF" stroke-width="0.22">+5V</text>
<path d="M1633.88 1267.56 L1633.88 1278.95" stroke="#840000" stroke-width="1.3" fill="none"/>
<path d="M1622.49 1278.95 L1645.27 1278.95 L1633.88 1290.34 Z" stroke="#840000" stroke-width="1.3" fill="none"/>
<text font-size="17.76" fill="#006464" transform="translate(1612.55 1319.23) scale(0.75 1)" textLength="56.94" lengthAdjust="spacing" stroke="#F5F4EF" stroke-width="0.22">GND2</text>
<path d="M1633.88 1199.22 L1624.88 1187.72 L1576.48 1187.72 L1576.48 1210.72 L1624.88 1210.72 Z" stroke="#840000" stroke-width="1.2" fill="none"/>
<text font-size="17.47" fill="#840000" transform="translate(1586.7 1205.63) scale(0.73 1)" textLength="44.86" lengthAdjust="spacing" stroke="#F5F4EF" stroke-width="0.22">I_EN</text>
<rect x="1713.61" y="1165.05" width="22.78" height="68.34" stroke="#840000" stroke-width="1.9" fill="#FFFFC2"/>
<path d="M1679.44 1176.44 L1713.61 1176.44" stroke="#840000" stroke-width="1.3" fill="none"/>
<rect x="1713.61" y="1174.84" width="11.96" height="3.2" stroke="#840000" stroke-width="1" fill="none"/>
<text font-size="16.74" fill="#A90000" transform="translate(1696.53 1172.65) scale(0.95 1)" text-anchor="middle" stroke="#F5F4EF" stroke-width="0.22">1</text>
<path d="M1679.44 1199.22 L1713.61 1199.22" stroke="#840000" stroke-width="1.3" fill="none"/>
<rect x="1713.61" y="1197.62" width="11.96" height="3.2" stroke="#840000" stroke-width="1" fill="none"/>
<text font-size="16.74" fill="#A90000" transform="translate(1696.53 1195.43) scale(0.95 1)" text-anchor="middle" stroke="#F5F4EF" stroke-width="0.22">2</text>
<path d="M1679.44 1222 L1713.61 1222" stroke="#840000" stroke-width="1.3" fill="none"/>
<rect x="1713.61" y="1220.4" width="11.96" height="3.2" stroke="#840000" stroke-width="1" fill="none"/>
<text font-size="16.74" fill="#A90000" transform="translate(1696.53 1218.21) scale(0.95 1)" text-anchor="middle" stroke="#F5F4EF" stroke-width="0.22">3</text>
<text font-size="17.47" fill="#006464" transform="translate(1716.52 1159.67) scale(0.77 1)" textLength="21.43" lengthAdjust="spacing" stroke="#F5F4EF" stroke-width="0.22">J5</text>
<path d="M0 1631.4 L1998 1631.4" stroke="#840000" stroke-width="1.3" fill="none"/>
<path d="M212.2 1631.4 L212.2 1637" stroke="#840000" stroke-width="1.3" fill="none"/>
<path d="M661.3 1631.4 L661.3 1637" stroke="#840000" stroke-width="1.3" fill="none"/>
<path d="M1110 1631.4 L1110 1637" stroke="#840000" stroke-width="1.3" fill="none"/>
<path d="M1558.5 1631.4 L1558.5 1637" stroke="#840000" stroke-width="1.3" fill="none"/>
<path d="M1262.4 1345 L1998 1345" stroke="#840000" stroke-width="1.3" fill="none"/>
<path d="M440.2 1634.6 L445.8 1634.6 L446.8 1635.6 L446.8 1637.5" stroke="#840000" stroke-width="1.2" fill="none"/>
<path d="M888.2 1634.6 L895.6 1634.6 L893.2 1637.5" stroke="#840000" stroke-width="1.2" fill="none"/>
<path d="M1339.6 1634.2 L1338.2 1637.5" stroke="#840000" stroke-width="1.2" fill="none"/>
<path d="M1791.8 1634.6 L1786.6 1634.6 L1785.8 1637.5" stroke="#840000" stroke-width="1.2" fill="none"/>
<path d="M1262.4 1345 L1262.4 1631.4" stroke="#840000" stroke-width="1.3" fill="none"/>
<path d="M1262.4 1483.5 L1998 1483.5" stroke="#840000" stroke-width="1.3" fill="none"/>
<path d="M1262.4 1537 L1998 1537" stroke="#840000" stroke-width="1.3" fill="none"/>
<path d="M1262.4 1573.4 L1998 1573.4" stroke="#840000" stroke-width="1.3" fill="none"/>
<path d="M1262.4 1599.6 L1998 1599.6" stroke="#840000" stroke-width="1.3" fill="none"/>
<path d="M1441.3 1573.4 L1441.3 1599.6" stroke="#840000" stroke-width="1.3" fill="none"/>
<text font-size="22.12" fill="#840000" transform="translate(1273.09 1504.21) scale(0.97 1)" textLength="87.86" lengthAdjust="spacing" stroke="#F5F4EF" stroke-width="0.22">Sheet: /</text>
<text font-size="21.98" fill="#840000" transform="translate(1273.1 1528.51) scale(0.91 1)" textLength="389.13" lengthAdjust="spacing" stroke="#F5F4EF" stroke-width="0.22">File: RS485-ESP-Shield.kicad_sch</text>
<text font-size="30.26" fill="#840000" transform="translate(1275.41 1563.01) scale(0.78 1)" textLength="83.31" lengthAdjust="spacing" font-weight="bold" font-style="italic" stroke="#F5F4EF" stroke-width="0.22">Title:</text>
<text font-size="21.1" fill="#840000" transform="translate(1273.1 1594.41) scale(0.88 1)" textLength="90.56" lengthAdjust="spacing" stroke="#F5F4EF" stroke-width="0.22">Size: A4</text>
<text font-size="21.1" fill="#840000" transform="translate(1470.81 1594.41) scale(0.85 1)" textLength="58.2" lengthAdjust="spacing" stroke="#F5F4EF" stroke-width="0.22">Date:</text>
<text font-size="20.38" fill="#840000" transform="translate(1273.1 1619.11) scale(0.93 1)" textLength="196.81" lengthAdjust="spacing" stroke="#F5F4EF" stroke-width="0.22">KiCad E.D.A. 8.0.1</text>
<text font-size="42.44" fill="#0000C2" transform="translate(67.02 33.35) scale(0.68 1)" textLength="239.64" lengthAdjust="spacing" stroke="#F5F4EF" stroke-width="1.7">Galvanic</text>
<text font-size="42.44" fill="#0000C2" transform="translate(257.22 33.35) scale(0.68 1)" textLength="175.08" lengthAdjust="spacing" stroke="#F5F4EF" stroke-width="1.7">Signal</text>
<text font-size="42.44" fill="#0000C2" transform="translate(402.92 33.35) scale(0.68 1)" textLength="304.35" lengthAdjust="spacing" stroke="#F5F4EF" stroke-width="1.7">Separation</text>
<path d="M50.45 49.4 L973.4 49.4" stroke="#0000C2" stroke-width="1.4" fill="none" stroke-dasharray="15.3 3.8 0.9 5.8"/>
<path d="M50.45 49.4 L50.45 1621.35" stroke="#0000C2" stroke-width="1.4" fill="none" stroke-dasharray="15.3 3.8 0.9 5.8"/>
<path d="M50.45 1621.35 L973.4 1621.35" stroke="#0000C2" stroke-width="1.4" fill="none" stroke-dasharray="15.3 3.8 0.9 5.8"/>
<path d="M973.4 49.4 L973.4 1621.35" stroke="#0000C2" stroke-width="1.4" fill="none" stroke-dasharray="15.3 3.8 0.9 5.8"/>
<path d="M494.5 70.3 L494.5 1610" stroke="#0000C2" stroke-width="1.4" fill="none" stroke-dasharray="15.8 5.28"/>
<text font-size="17.33" fill="#0000C2" transform="translate(325.09 79.81) scale(0.96 1)" textLength="167.39" lengthAdjust="spacing" stroke="#F5F4EF" stroke-width="0.22">3,3V ESP potential</text>
<text font-size="17.33" fill="#0000C2" transform="translate(507.89 79.81) scale(0.96 1)" textLength="201.73" lengthAdjust="spacing" stroke="#F5F4EF" stroke-width="0.22">5V indipendent Source</text>
<path d="M250.2 276.5 L329.9 276.5" stroke="#555555" stroke-width="1" fill="none"/>
<path d="M289.5 237.1 L289.5 316.9" stroke="#555555" stroke-width="1" fill="none"/>
</svg>

<script>
(function(){
  var fb=document.getElementById('gfb'); if(fb) fb.style.display='none';
  var c=document.getElementById('g');var x=c.getContext('2d');
  var UX=11.394,UY=11.392,X0=16.2,Y0=82.2;
  for(var i=-2;i<180;i++){
    var px=Math.round(X0+i*UX); if(px<-2||px>2000) continue;
    var mi=((i%10)+10)%10==0;
    for(var j=-8;j<150;j++){
      var py=Math.round(Y0+j*UY); if(py<-2||py>1640) continue;
      var mj=((j%10)+10)%10==0;
      if(mi&&mj){x.fillStyle='#afafaf';x.fillRect(px-1,py-1,3,3);}
      else if(mi){x.fillStyle='#c4c4c4';x.fillRect(px-1,py,3,1);}
      else if(mj){x.fillStyle='#bdbdbd';x.fillRect(px,py-1,1,3);}
      else {x.fillStyle='#c8c8c8';x.fillRect(px,py,1,1);}
    }
  }
})();
</script>

</body></html>
